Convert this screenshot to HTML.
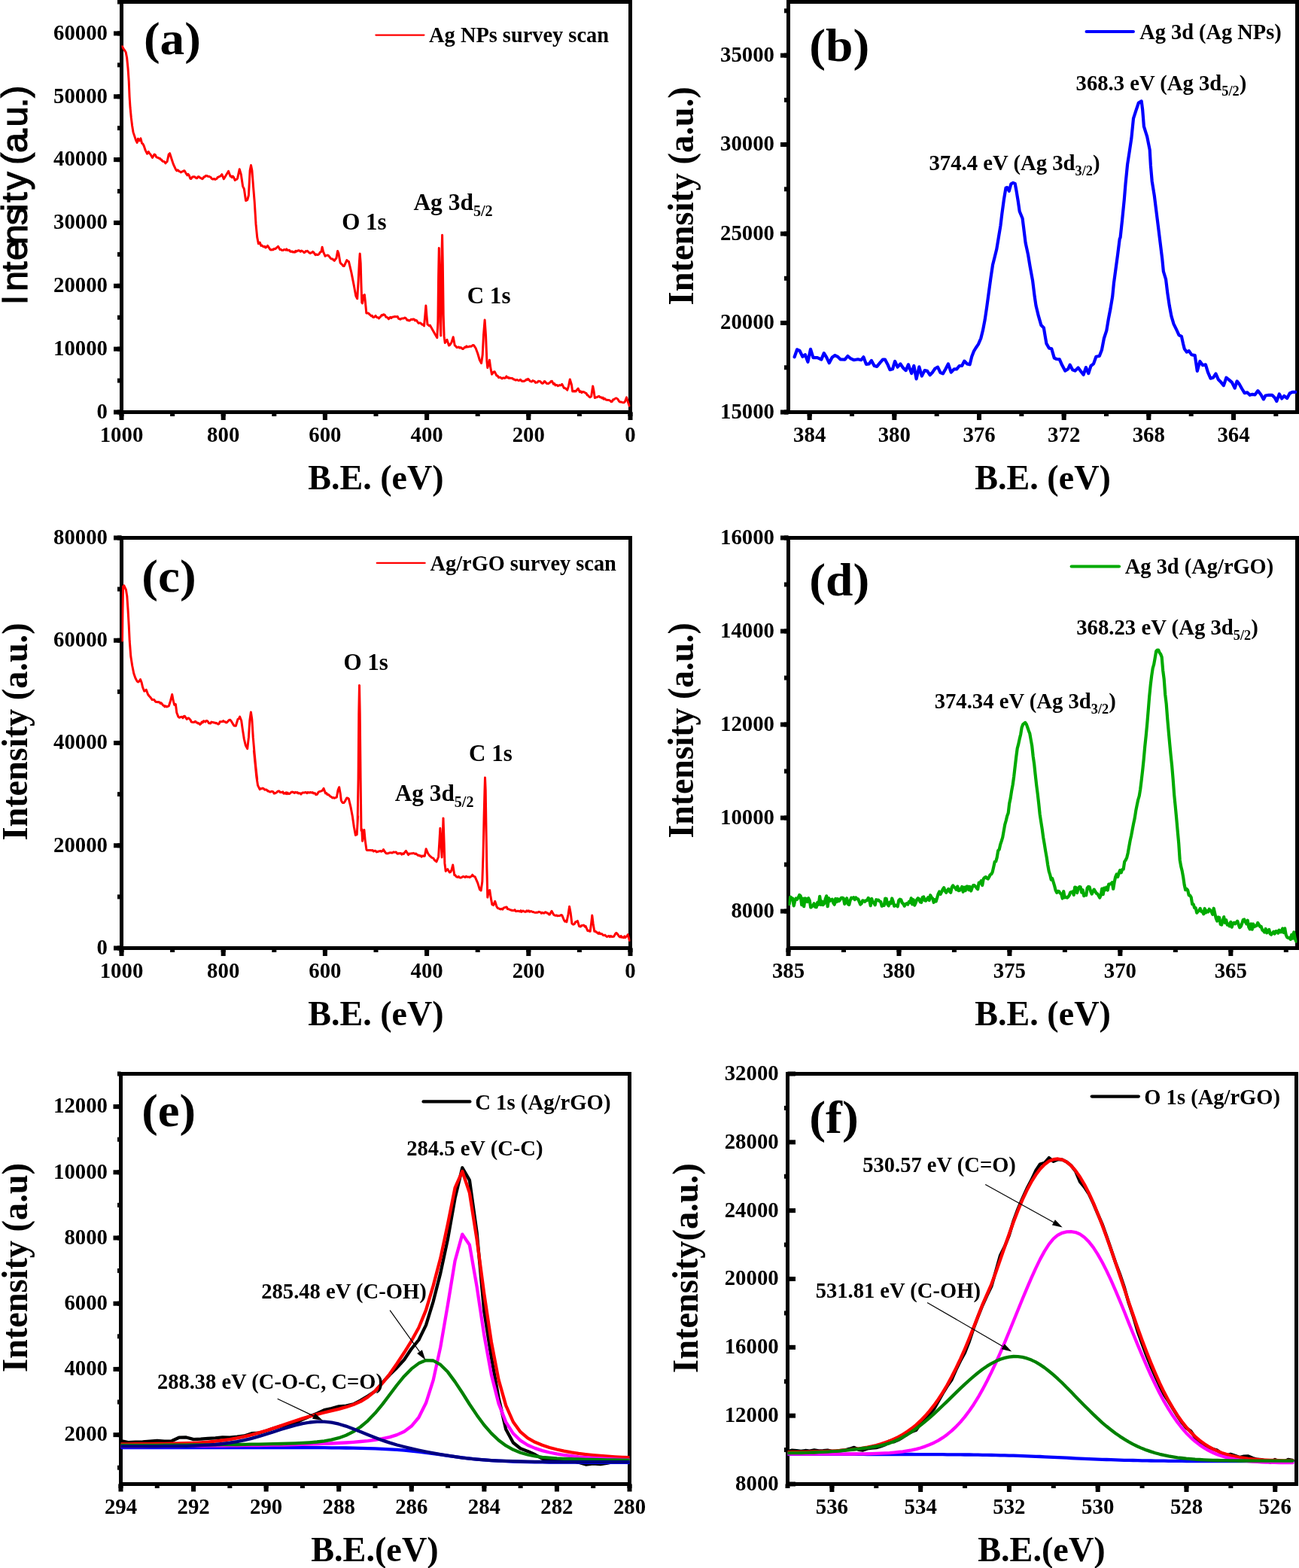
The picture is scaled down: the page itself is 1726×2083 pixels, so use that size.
<!DOCTYPE html>
<html lang="en"><head><meta charset="utf-8"><title>XPS spectra of Ag NPs and Ag/rGO</title>
<style>html,body{margin:0;padding:0;background:#fff}body{width:1726px;height:2083px;overflow:hidden}svg text{fill:#000}</style>
</head><body>
<svg xmlns="http://www.w3.org/2000/svg" width="1726" height="2083" viewBox="0 0 1726 2083" style="display:block">
<rect width="1726" height="2083" fill="#fff"/>
<clipPath id="ca"><rect x="161.5" y="2.5" width="676.0" height="545.0"/></clipPath>
<clipPath id="cb"><rect x="1047.5" y="2.5" width="676.0" height="545.0"/></clipPath>
<clipPath id="cc"><rect x="161.5" y="714.5" width="676.0" height="545.0"/></clipPath>
<clipPath id="cd"><rect x="1047.5" y="714.5" width="676.0" height="545.0"/></clipPath>
<clipPath id="ce"><rect x="160.5" y="1426.5" width="676.0" height="545.0"/></clipPath>
<clipPath id="cf"><rect x="1046.5" y="1426.5" width="676.0" height="545.0"/></clipPath>
<rect x="161.50" y="2.50" width="676.00" height="545.00" fill="none" stroke="#000" stroke-width="5.00"/>
<rect x="151.00" y="544.50" width="10.50" height="6.00" fill="#000"/>
<rect x="151.00" y="460.65" width="10.50" height="6.00" fill="#000"/>
<rect x="151.00" y="376.81" width="10.50" height="6.00" fill="#000"/>
<rect x="151.00" y="292.96" width="10.50" height="6.00" fill="#000"/>
<rect x="151.00" y="209.12" width="10.50" height="6.00" fill="#000"/>
<rect x="151.00" y="125.27" width="10.50" height="6.00" fill="#000"/>
<rect x="151.00" y="41.42" width="10.50" height="6.00" fill="#000"/>
<rect x="156.00" y="544.50" width="5.50" height="6.00" fill="#000"/>
<rect x="156.00" y="502.58" width="5.50" height="6.00" fill="#000"/>
<rect x="156.00" y="460.65" width="5.50" height="6.00" fill="#000"/>
<rect x="156.00" y="418.73" width="5.50" height="6.00" fill="#000"/>
<rect x="156.00" y="376.81" width="5.50" height="6.00" fill="#000"/>
<rect x="156.00" y="334.88" width="5.50" height="6.00" fill="#000"/>
<rect x="156.00" y="292.96" width="5.50" height="6.00" fill="#000"/>
<rect x="156.00" y="251.04" width="5.50" height="6.00" fill="#000"/>
<rect x="156.00" y="209.12" width="5.50" height="6.00" fill="#000"/>
<rect x="156.00" y="167.19" width="5.50" height="6.00" fill="#000"/>
<rect x="156.00" y="125.27" width="5.50" height="6.00" fill="#000"/>
<rect x="156.00" y="83.35" width="5.50" height="6.00" fill="#000"/>
<rect x="156.00" y="41.42" width="5.50" height="6.00" fill="#000"/>
<rect x="156.00" y="-0.50" width="5.50" height="6.00" fill="#000"/>
<rect x="834.50" y="547.50" width="6.00" height="10.50" fill="#000"/>
<rect x="699.30" y="547.50" width="6.00" height="10.50" fill="#000"/>
<rect x="564.10" y="547.50" width="6.00" height="10.50" fill="#000"/>
<rect x="428.90" y="547.50" width="6.00" height="10.50" fill="#000"/>
<rect x="293.70" y="547.50" width="6.00" height="10.50" fill="#000"/>
<rect x="158.50" y="547.50" width="6.00" height="10.50" fill="#000"/>
<rect x="834.50" y="547.50" width="6.00" height="5.50" fill="#000"/>
<rect x="766.90" y="547.50" width="6.00" height="5.50" fill="#000"/>
<rect x="699.30" y="547.50" width="6.00" height="5.50" fill="#000"/>
<rect x="631.70" y="547.50" width="6.00" height="5.50" fill="#000"/>
<rect x="564.10" y="547.50" width="6.00" height="5.50" fill="#000"/>
<rect x="496.50" y="547.50" width="6.00" height="5.50" fill="#000"/>
<rect x="428.90" y="547.50" width="6.00" height="5.50" fill="#000"/>
<rect x="361.30" y="547.50" width="6.00" height="5.50" fill="#000"/>
<rect x="293.70" y="547.50" width="6.00" height="5.50" fill="#000"/>
<rect x="226.10" y="547.50" width="6.00" height="5.50" fill="#000"/>
<rect x="158.50" y="547.50" width="6.00" height="5.50" fill="#000"/>
<rect x="1047.50" y="2.50" width="676.00" height="545.00" fill="none" stroke="#000" stroke-width="5.00"/>
<rect x="1037.00" y="544.50" width="10.50" height="6.00" fill="#000"/>
<rect x="1037.00" y="426.02" width="10.50" height="6.00" fill="#000"/>
<rect x="1037.00" y="307.54" width="10.50" height="6.00" fill="#000"/>
<rect x="1037.00" y="189.07" width="10.50" height="6.00" fill="#000"/>
<rect x="1037.00" y="70.59" width="10.50" height="6.00" fill="#000"/>
<rect x="1042.00" y="544.50" width="5.50" height="6.00" fill="#000"/>
<rect x="1042.00" y="485.26" width="5.50" height="6.00" fill="#000"/>
<rect x="1042.00" y="426.02" width="5.50" height="6.00" fill="#000"/>
<rect x="1042.00" y="366.78" width="5.50" height="6.00" fill="#000"/>
<rect x="1042.00" y="307.54" width="5.50" height="6.00" fill="#000"/>
<rect x="1042.00" y="248.30" width="5.50" height="6.00" fill="#000"/>
<rect x="1042.00" y="189.07" width="5.50" height="6.00" fill="#000"/>
<rect x="1042.00" y="129.83" width="5.50" height="6.00" fill="#000"/>
<rect x="1042.00" y="70.59" width="5.50" height="6.00" fill="#000"/>
<rect x="1042.00" y="11.35" width="5.50" height="6.00" fill="#000"/>
<rect x="1636.00" y="547.50" width="6.00" height="10.50" fill="#000"/>
<rect x="1523.33" y="547.50" width="6.00" height="10.50" fill="#000"/>
<rect x="1410.67" y="547.50" width="6.00" height="10.50" fill="#000"/>
<rect x="1298.00" y="547.50" width="6.00" height="10.50" fill="#000"/>
<rect x="1185.33" y="547.50" width="6.00" height="10.50" fill="#000"/>
<rect x="1072.67" y="547.50" width="6.00" height="10.50" fill="#000"/>
<rect x="1692.33" y="547.50" width="6.00" height="5.50" fill="#000"/>
<rect x="1636.00" y="547.50" width="6.00" height="5.50" fill="#000"/>
<rect x="1579.67" y="547.50" width="6.00" height="5.50" fill="#000"/>
<rect x="1523.33" y="547.50" width="6.00" height="5.50" fill="#000"/>
<rect x="1467.00" y="547.50" width="6.00" height="5.50" fill="#000"/>
<rect x="1410.67" y="547.50" width="6.00" height="5.50" fill="#000"/>
<rect x="1354.33" y="547.50" width="6.00" height="5.50" fill="#000"/>
<rect x="1298.00" y="547.50" width="6.00" height="5.50" fill="#000"/>
<rect x="1241.67" y="547.50" width="6.00" height="5.50" fill="#000"/>
<rect x="1185.33" y="547.50" width="6.00" height="5.50" fill="#000"/>
<rect x="1129.00" y="547.50" width="6.00" height="5.50" fill="#000"/>
<rect x="1072.67" y="547.50" width="6.00" height="5.50" fill="#000"/>
<rect x="161.50" y="714.50" width="676.00" height="545.00" fill="none" stroke="#000" stroke-width="5.00"/>
<rect x="151.00" y="1256.50" width="10.50" height="6.00" fill="#000"/>
<rect x="151.00" y="1120.25" width="10.50" height="6.00" fill="#000"/>
<rect x="151.00" y="984.00" width="10.50" height="6.00" fill="#000"/>
<rect x="151.00" y="847.75" width="10.50" height="6.00" fill="#000"/>
<rect x="151.00" y="711.50" width="10.50" height="6.00" fill="#000"/>
<rect x="156.00" y="1256.50" width="5.50" height="6.00" fill="#000"/>
<rect x="156.00" y="1188.38" width="5.50" height="6.00" fill="#000"/>
<rect x="156.00" y="1120.25" width="5.50" height="6.00" fill="#000"/>
<rect x="156.00" y="1052.12" width="5.50" height="6.00" fill="#000"/>
<rect x="156.00" y="984.00" width="5.50" height="6.00" fill="#000"/>
<rect x="156.00" y="915.88" width="5.50" height="6.00" fill="#000"/>
<rect x="156.00" y="847.75" width="5.50" height="6.00" fill="#000"/>
<rect x="156.00" y="779.62" width="5.50" height="6.00" fill="#000"/>
<rect x="156.00" y="711.50" width="5.50" height="6.00" fill="#000"/>
<rect x="834.50" y="1259.50" width="6.00" height="10.50" fill="#000"/>
<rect x="699.30" y="1259.50" width="6.00" height="10.50" fill="#000"/>
<rect x="564.10" y="1259.50" width="6.00" height="10.50" fill="#000"/>
<rect x="428.90" y="1259.50" width="6.00" height="10.50" fill="#000"/>
<rect x="293.70" y="1259.50" width="6.00" height="10.50" fill="#000"/>
<rect x="158.50" y="1259.50" width="6.00" height="10.50" fill="#000"/>
<rect x="834.50" y="1259.50" width="6.00" height="5.50" fill="#000"/>
<rect x="766.90" y="1259.50" width="6.00" height="5.50" fill="#000"/>
<rect x="699.30" y="1259.50" width="6.00" height="5.50" fill="#000"/>
<rect x="631.70" y="1259.50" width="6.00" height="5.50" fill="#000"/>
<rect x="564.10" y="1259.50" width="6.00" height="5.50" fill="#000"/>
<rect x="496.50" y="1259.50" width="6.00" height="5.50" fill="#000"/>
<rect x="428.90" y="1259.50" width="6.00" height="5.50" fill="#000"/>
<rect x="361.30" y="1259.50" width="6.00" height="5.50" fill="#000"/>
<rect x="293.70" y="1259.50" width="6.00" height="5.50" fill="#000"/>
<rect x="226.10" y="1259.50" width="6.00" height="5.50" fill="#000"/>
<rect x="158.50" y="1259.50" width="6.00" height="5.50" fill="#000"/>
<rect x="1047.50" y="714.50" width="676.00" height="545.00" fill="none" stroke="#000" stroke-width="5.00"/>
<rect x="1037.00" y="1207.52" width="10.50" height="6.00" fill="#000"/>
<rect x="1037.00" y="1083.51" width="10.50" height="6.00" fill="#000"/>
<rect x="1037.00" y="959.51" width="10.50" height="6.00" fill="#000"/>
<rect x="1037.00" y="835.50" width="10.50" height="6.00" fill="#000"/>
<rect x="1037.00" y="711.50" width="10.50" height="6.00" fill="#000"/>
<rect x="1042.00" y="1207.52" width="5.50" height="6.00" fill="#000"/>
<rect x="1042.00" y="1145.52" width="5.50" height="6.00" fill="#000"/>
<rect x="1042.00" y="1083.51" width="5.50" height="6.00" fill="#000"/>
<rect x="1042.00" y="1021.51" width="5.50" height="6.00" fill="#000"/>
<rect x="1042.00" y="959.51" width="5.50" height="6.00" fill="#000"/>
<rect x="1042.00" y="897.51" width="5.50" height="6.00" fill="#000"/>
<rect x="1042.00" y="835.50" width="5.50" height="6.00" fill="#000"/>
<rect x="1042.00" y="773.50" width="5.50" height="6.00" fill="#000"/>
<rect x="1042.00" y="711.50" width="5.50" height="6.00" fill="#000"/>
<rect x="1632.33" y="1259.50" width="6.00" height="10.50" fill="#000"/>
<rect x="1485.37" y="1259.50" width="6.00" height="10.50" fill="#000"/>
<rect x="1338.41" y="1259.50" width="6.00" height="10.50" fill="#000"/>
<rect x="1191.46" y="1259.50" width="6.00" height="10.50" fill="#000"/>
<rect x="1044.50" y="1259.50" width="6.00" height="10.50" fill="#000"/>
<rect x="1705.80" y="1259.50" width="6.00" height="5.50" fill="#000"/>
<rect x="1632.33" y="1259.50" width="6.00" height="5.50" fill="#000"/>
<rect x="1558.85" y="1259.50" width="6.00" height="5.50" fill="#000"/>
<rect x="1485.37" y="1259.50" width="6.00" height="5.50" fill="#000"/>
<rect x="1411.89" y="1259.50" width="6.00" height="5.50" fill="#000"/>
<rect x="1338.41" y="1259.50" width="6.00" height="5.50" fill="#000"/>
<rect x="1264.93" y="1259.50" width="6.00" height="5.50" fill="#000"/>
<rect x="1191.46" y="1259.50" width="6.00" height="5.50" fill="#000"/>
<rect x="1117.98" y="1259.50" width="6.00" height="5.50" fill="#000"/>
<rect x="1044.50" y="1259.50" width="6.00" height="5.50" fill="#000"/>
<rect x="160.50" y="1426.50" width="676.00" height="545.00" fill="none" stroke="#000" stroke-width="5.00"/>
<rect x="150.50" y="1903.10" width="10.00" height="6.00" fill="#000"/>
<rect x="150.50" y="1815.90" width="10.00" height="6.00" fill="#000"/>
<rect x="150.50" y="1728.70" width="10.00" height="6.00" fill="#000"/>
<rect x="150.50" y="1641.50" width="10.00" height="6.00" fill="#000"/>
<rect x="150.50" y="1554.30" width="10.00" height="6.00" fill="#000"/>
<rect x="150.50" y="1467.10" width="10.00" height="6.00" fill="#000"/>
<rect x="156.00" y="1946.70" width="4.50" height="6.00" fill="#000"/>
<rect x="156.00" y="1903.10" width="4.50" height="6.00" fill="#000"/>
<rect x="156.00" y="1859.50" width="4.50" height="6.00" fill="#000"/>
<rect x="156.00" y="1815.90" width="4.50" height="6.00" fill="#000"/>
<rect x="156.00" y="1772.30" width="4.50" height="6.00" fill="#000"/>
<rect x="156.00" y="1728.70" width="4.50" height="6.00" fill="#000"/>
<rect x="156.00" y="1685.10" width="4.50" height="6.00" fill="#000"/>
<rect x="156.00" y="1641.50" width="4.50" height="6.00" fill="#000"/>
<rect x="156.00" y="1597.90" width="4.50" height="6.00" fill="#000"/>
<rect x="156.00" y="1554.30" width="4.50" height="6.00" fill="#000"/>
<rect x="156.00" y="1510.70" width="4.50" height="6.00" fill="#000"/>
<rect x="156.00" y="1467.10" width="4.50" height="6.00" fill="#000"/>
<rect x="156.00" y="1423.50" width="4.50" height="6.00" fill="#000"/>
<rect x="833.50" y="1971.50" width="6.00" height="10.00" fill="#000"/>
<rect x="736.93" y="1971.50" width="6.00" height="10.00" fill="#000"/>
<rect x="640.36" y="1971.50" width="6.00" height="10.00" fill="#000"/>
<rect x="543.79" y="1971.50" width="6.00" height="10.00" fill="#000"/>
<rect x="447.21" y="1971.50" width="6.00" height="10.00" fill="#000"/>
<rect x="350.64" y="1971.50" width="6.00" height="10.00" fill="#000"/>
<rect x="254.07" y="1971.50" width="6.00" height="10.00" fill="#000"/>
<rect x="157.50" y="1971.50" width="6.00" height="10.00" fill="#000"/>
<rect x="833.50" y="1971.50" width="6.00" height="5.50" fill="#000"/>
<rect x="785.21" y="1971.50" width="6.00" height="5.50" fill="#000"/>
<rect x="736.93" y="1971.50" width="6.00" height="5.50" fill="#000"/>
<rect x="688.64" y="1971.50" width="6.00" height="5.50" fill="#000"/>
<rect x="640.36" y="1971.50" width="6.00" height="5.50" fill="#000"/>
<rect x="592.07" y="1971.50" width="6.00" height="5.50" fill="#000"/>
<rect x="543.79" y="1971.50" width="6.00" height="5.50" fill="#000"/>
<rect x="495.50" y="1971.50" width="6.00" height="5.50" fill="#000"/>
<rect x="447.21" y="1971.50" width="6.00" height="5.50" fill="#000"/>
<rect x="398.93" y="1971.50" width="6.00" height="5.50" fill="#000"/>
<rect x="350.64" y="1971.50" width="6.00" height="5.50" fill="#000"/>
<rect x="302.36" y="1971.50" width="6.00" height="5.50" fill="#000"/>
<rect x="254.07" y="1971.50" width="6.00" height="5.50" fill="#000"/>
<rect x="205.79" y="1971.50" width="6.00" height="5.50" fill="#000"/>
<rect x="157.50" y="1971.50" width="6.00" height="5.50" fill="#000"/>
<rect x="1046.50" y="1426.50" width="676.00" height="545.00" fill="none" stroke="#000" stroke-width="5.00"/>
<rect x="1046.50" y="1968.50" width="10.50" height="6.00" fill="#000"/>
<rect x="1046.50" y="1877.67" width="10.50" height="6.00" fill="#000"/>
<rect x="1046.50" y="1786.83" width="10.50" height="6.00" fill="#000"/>
<rect x="1046.50" y="1696.00" width="10.50" height="6.00" fill="#000"/>
<rect x="1046.50" y="1605.17" width="10.50" height="6.00" fill="#000"/>
<rect x="1046.50" y="1514.33" width="10.50" height="6.00" fill="#000"/>
<rect x="1046.50" y="1423.50" width="10.50" height="6.00" fill="#000"/>
<rect x="1041.90" y="1923.08" width="4.60" height="6.00" fill="#000"/>
<rect x="1041.90" y="1832.25" width="4.60" height="6.00" fill="#000"/>
<rect x="1041.90" y="1741.42" width="4.60" height="6.00" fill="#000"/>
<rect x="1041.90" y="1650.58" width="4.60" height="6.00" fill="#000"/>
<rect x="1041.90" y="1559.75" width="4.60" height="6.00" fill="#000"/>
<rect x="1041.90" y="1468.92" width="4.60" height="6.00" fill="#000"/>
<rect x="1691.24" y="1971.50" width="6.00" height="10.50" fill="#000"/>
<rect x="1573.47" y="1971.50" width="6.00" height="10.50" fill="#000"/>
<rect x="1455.70" y="1971.50" width="6.00" height="10.50" fill="#000"/>
<rect x="1337.93" y="1971.50" width="6.00" height="10.50" fill="#000"/>
<rect x="1220.16" y="1971.50" width="6.00" height="10.50" fill="#000"/>
<rect x="1102.39" y="1971.50" width="6.00" height="10.50" fill="#000"/>
<rect x="1691.24" y="1971.50" width="6.00" height="5.50" fill="#000"/>
<rect x="1632.35" y="1971.50" width="6.00" height="5.50" fill="#000"/>
<rect x="1573.47" y="1971.50" width="6.00" height="5.50" fill="#000"/>
<rect x="1514.58" y="1971.50" width="6.00" height="5.50" fill="#000"/>
<rect x="1455.70" y="1971.50" width="6.00" height="5.50" fill="#000"/>
<rect x="1396.81" y="1971.50" width="6.00" height="5.50" fill="#000"/>
<rect x="1337.93" y="1971.50" width="6.00" height="5.50" fill="#000"/>
<rect x="1279.04" y="1971.50" width="6.00" height="5.50" fill="#000"/>
<rect x="1220.16" y="1971.50" width="6.00" height="5.50" fill="#000"/>
<rect x="1161.27" y="1971.50" width="6.00" height="5.50" fill="#000"/>
<rect x="1102.39" y="1971.50" width="6.00" height="5.50" fill="#000"/>
<rect x="1043.50" y="1971.50" width="6.00" height="5.50" fill="#000"/>
<polyline points="162.5,61.7 164.3,65.2 165.7,67.0 167.2,69.5 168.6,76.5 170.0,90.4 171.2,107.8 172.1,128.6 173.0,142.5 174.3,156.4 175.6,166.9 177.0,175.6 179.0,181.6 180.8,186.9 182.2,189.5 183.4,184.3 185.1,186.9 186.9,183.9 188.6,190.3 189.9,191.3 191.2,193.8 193.3,199.9 195.6,204.2 197.3,201.6 198.6,203.7 199.9,205.1 202.5,209.5 205.1,205.1 206.4,205.9 207.7,208.6 208.9,209.2 210.0,209.5 211.2,210.3 212.3,210.2 213.4,212.1 214.5,211.9 215.5,213.8 216.6,214.4 217.7,214.4 218.8,215.2 219.9,216.9 221.0,215.6 222.1,214.7 224.2,205.1 225.6,203.7 227.7,210.3 230.3,218.1 233.8,225.6 234.9,226.9 236.0,225.8 237.1,226.6 238.1,227.7 239.3,228.1 240.5,228.9 241.6,228.1 242.8,227.8 243.9,227.0 245.1,226.8 247.7,231.2 248.9,232.8 250.0,231.3 251.2,232.9 252.9,237.3 254.0,237.5 255.1,235.7 256.2,234.8 257.3,235.0 258.4,234.7 259.6,235.7 260.7,236.7 261.9,236.7 263.1,234.7 264.2,234.7 265.3,235.6 266.4,236.5 267.5,236.7 268.6,237.8 269.7,237.0 270.9,235.0 272.0,235.0 273.2,233.6 274.3,233.5 275.5,233.8 276.7,234.6 277.8,234.4 279.0,235.0 280.1,235.6 281.3,237.3 282.5,238.1 283.6,237.9 284.7,237.5 285.8,238.5 287.0,237.8 288.1,237.3 289.2,235.5 290.3,235.3 291.4,234.4 292.5,234.3 293.7,233.1 294.8,231.7 297.4,237.8 303.5,227.4 306.1,234.3 307.2,234.1 308.2,235.8 309.3,234.1 310.4,235.2 312.2,239.5 313.3,238.5 314.5,238.3 315.6,236.9 318.2,224.7 320.3,231.7 322.6,247.3 324.3,250.8 326.6,266.5 328.7,265.6 330.4,259.5 332.1,226.5 333.5,219.5 334.9,226.5 336.5,247.3 338.2,268.2 340.0,297.7 341.7,315.1 343.4,323.8 345.2,322.1 346.9,326.4 348.2,326.1 349.5,327.3 350.7,327.9 351.8,327.4 353.0,329.0 354.3,328.1 355.6,326.4 359.1,331.6 360.3,332.1 361.5,331.5 362.7,331.9 364.0,330.5 365.2,330.8 366.3,330.3 367.3,329.2 368.4,328.3 369.5,327.3 372.1,331.6 373.4,331.5 374.7,332.4 376.0,332.6 377.3,331.6 378.5,331.7 379.7,332.2 380.8,330.9 382.0,332.4 383.1,332.4 384.3,332.2 385.6,334.0 386.9,334.4 388.2,333.9 389.5,335.1 390.6,334.7 391.7,335.1 392.8,333.4 393.9,334.2 394.9,333.3 396.0,333.0 397.1,332.6 398.2,333.4 399.4,334.3 400.5,333.1 401.7,333.7 402.8,334.3 404.0,335.6 405.2,335.1 406.3,333.6 407.5,333.9 408.6,333.4 409.9,334.8 411.2,336.0 412.3,336.4 413.4,335.8 414.5,335.5 415.6,334.3 416.7,335.2 417.9,337.0 419.1,338.6 420.4,337.9 421.7,338.6 423.0,338.3 424.3,336.9 425.6,334.8 426.9,334.3 428.1,328.2 429.5,334.3 432.1,340.3 433.2,339.4 434.3,339.3 435.4,339.1 436.4,339.5 437.6,340.9 438.8,342.6 439.9,343.8 441.0,343.9 442.1,344.0 443.2,345.6 444.3,346.4 445.6,344.4 446.9,342.9 448.6,333.4 450.0,336.9 452.1,349.0 453.4,350.5 454.7,351.6 456.0,353.5 457.3,353.4 460.8,345.6 462.1,346.8 463.4,347.3 466.9,362.1 470.3,379.4 472.9,393.4 474.7,396.8 476.1,374.2 477.3,349.9 478.2,336.9 479.2,349.9 479.9,376.0 480.8,402.0 481.6,402.9 483.0,392.5 484.4,391.6 485.5,402.0 486.8,415.9 488.2,416.0 489.5,415.9 490.8,417.5 492.1,418.6 493.2,419.8 494.4,419.3 495.5,421.2 496.7,421.5 497.9,420.6 499.0,419.4 500.1,421.1 501.2,421.8 502.3,421.8 503.4,422.9 504.7,421.4 506.0,420.3 507.1,418.6 508.3,418.9 509.4,417.7 510.6,417.9 511.8,419.1 512.9,421.2 514.1,421.4 515.2,422.2 516.4,423.8 517.7,422.1 519.0,421.2 520.0,422.5 521.2,421.3 522.3,420.9 523.5,420.9 524.6,420.5 525.8,420.8 527.0,420.8 528.3,420.6 529.6,423.4 530.9,423.7 532.2,424.3 533.3,423.2 534.5,423.1 535.6,423.1 536.8,422.8 538.0,422.0 539.1,422.5 540.2,424.2 541.3,425.4 542.4,425.1 543.5,426.0 544.6,425.7 545.8,424.5 546.9,424.3 548.1,424.5 549.3,424.0 550.4,424.3 551.5,425.9 552.6,425.3 553.7,425.8 554.8,427.7 556.1,429.4 557.4,429.1 558.7,428.9 560.0,430.4 561.1,431.3 562.3,431.1 563.5,433.0 564.8,419.1 565.9,406.0 566.9,419.1 568.0,431.2 569.1,431.6 570.2,432.9 571.3,432.1 574.8,438.2 578.2,444.3 580.8,448.6 581.9,427.7 582.6,366.9 583.3,329.5 584.3,366.9 585.2,436.4 585.7,446.0 586.4,401.7 587.1,332.1 587.6,312.2 588.3,349.5 589.2,419.1 590.1,446.9 591.3,455.6 593.9,451.2 596.5,459.0 597.6,458.4 598.8,456.6 600.0,454.7 602.2,447.7 604.3,459.0 605.6,459.8 606.9,461.6 608.2,461.4 609.5,460.9 610.8,462.2 612.1,461.6 613.3,462.3 614.4,463.4 615.6,463.4 616.7,462.1 617.8,461.0 618.9,461.5 619.9,459.9 621.0,461.0 622.1,460.7 623.2,460.6 624.3,459.9 625.6,460.3 626.9,459.8 628.2,458.4 629.5,458.7 630.8,460.6 632.1,462.5 634.7,469.5 637.3,478.2 639.6,482.5 641.2,471.2 642.5,445.1 644.1,425.1 645.5,445.1 646.9,479.9 647.8,488.6 650.4,478.2 651.8,488.6 653.5,497.3 654.8,495.8 656.0,493.9 657.3,493.8 659.9,499.0 661.2,499.3 662.5,501.6 663.7,501.2 664.9,501.3 666.0,502.3 667.2,503.0 668.3,501.9 669.5,502.1 670.6,502.4 671.8,501.7 673.0,499.9 674.1,501.8 675.3,501.3 676.4,502.5 677.6,502.1 678.8,502.4 679.9,502.5 681.1,502.8 682.2,503.9 683.4,503.9 684.6,505.0 685.7,505.0 686.9,504.4 688.0,505.0 689.2,505.6 690.3,505.1 691.5,504.3 692.7,505.7 693.8,506.4 695.0,506.3 696.1,506.4 697.3,506.0 698.4,505.3 699.5,504.0 700.6,504.6 701.6,503.4 702.9,504.5 704.3,506.3 705.4,506.7 706.6,506.9 707.7,505.6 709.0,506.0 710.3,506.6 711.6,508.4 712.9,508.1 714.1,508.0 715.3,506.3 716.4,506.5 717.6,506.5 718.7,507.5 719.9,509.1 721.0,509.4 722.1,508.6 723.2,506.6 724.2,506.8 725.3,508.3 726.4,509.4 727.5,509.4 728.6,509.8 729.8,508.6 731.0,508.2 732.2,506.4 733.5,506.3 735.5,510.3 736.7,509.5 737.9,511.9 739.0,511.5 740.2,511.5 741.3,512.7 742.5,512.1 743.6,511.5 744.7,512.0 745.8,511.5 746.8,510.3 749.4,515.5 750.5,515.5 751.6,516.3 752.7,517.0 753.8,518.1 755.5,512.9 757.3,503.9 759.5,511.2 760.7,519.9 761.8,519.3 762.9,520.1 764.0,519.3 765.1,519.9 766.7,517.8 768.2,516.1 770.3,520.7 771.6,519.9 772.9,521.6 774.2,520.4 775.5,520.7 776.7,521.2 777.8,522.1 779.0,522.5 780.2,524.8 781.3,525.2 782.5,526.8 784.0,527.7 785.6,526.8 787.7,512.9 789.1,519.9 790.3,528.6 791.4,528.1 792.5,527.8 793.6,527.3 794.6,526.8 795.9,526.3 797.2,527.7 798.6,527.7 799.9,528.9 801.0,528.2 802.2,530.3 803.3,529.3 804.5,530.4 805.6,531.3 806.8,531.2 808.0,531.6 809.2,531.5 810.5,532.3 811.7,532.7 812.9,532.9 812.1,533.8 813.4,533.4 814.7,530.8 816.0,530.7 817.3,529.5 818.6,528.9 819.9,529.5 821.2,530.7 822.5,533.0 823.8,534.0 825.1,533.9 826.4,534.4 827.7,534.7 829.0,534.8 830.3,533.8 832.6,527.8 834.3,533.8 836.1,539.1" fill="none" stroke="#ff0000" stroke-width="3.00" stroke-linejoin="round" stroke-linecap="round" clip-path="url(#ca)"/>
<polyline points="1055.6,474.3 1059.1,464.3 1062.6,466.0 1066.4,473.8 1069.9,471.2 1073.4,480.8 1077.0,463.9 1080.5,475.2 1086.1,475.2 1091.3,477.6 1094.8,469.1 1098.2,474.7 1101.7,482.2 1105.7,474.7 1109.5,472.1 1113.0,473.8 1116.5,477.3 1122.6,477.6 1126.4,473.0 1130.4,476.4 1134.7,478.2 1139.9,477.3 1144.3,478.2 1147.4,474.3 1150.9,483.9 1154.7,483.4 1157.9,479.0 1161.7,486.0 1165.2,486.9 1169.5,481.6 1173.0,477.6 1175.9,477.6 1179.9,485.1 1182.5,491.2 1186.0,490.3 1189.1,479.9 1192.6,487.7 1196.4,483.4 1199.9,488.6 1203.7,492.1 1206.9,484.3 1211.2,496.1 1214.3,486.0 1217.6,503.4 1221.3,487.4 1224.8,499.5 1228.6,492.1 1232.1,492.9 1235.6,498.2 1239.0,494.7 1242.5,489.5 1246.0,487.7 1249.5,495.0 1252.9,496.4 1256.4,490.3 1259.9,483.4 1263.7,494.7 1267.7,490.3 1271.2,490.3 1274.7,486.0 1278.1,486.0 1281.3,479.6 1285.1,483.4 1288.6,484.3 1291.2,473.8 1293.8,466.9 1296.4,462.5 1299.9,457.3 1303.3,449.5 1305.9,439.1 1308.6,425.2 1311.2,407.8 1313.8,388.6 1316.4,369.5 1319.0,352.1 1321.6,341.7 1324.2,331.3 1326.8,315.6 1329.4,300.0 1331.3,284.3 1333.9,265.1 1336.5,249.5 1338.2,249.1 1340.8,253.8 1343.4,244.3 1346.1,242.9 1348.7,243.9 1350.4,253.0 1352.7,266.9 1354.7,280.8 1358.6,290.3 1360.0,301.6 1362.6,322.5 1366.0,338.1 1368.6,353.8 1372.1,372.9 1374.7,393.9 1376.5,406.0 1379.9,419.9 1383.4,432.1 1386.9,435.6 1388.6,446.0 1390.4,456.4 1393.9,462.5 1397.3,463.4 1400.8,475.6 1403.8,477.0 1407.8,477.3 1411.2,485.1 1415.2,492.6 1419.1,490.3 1421.7,484.6 1425.1,491.2 1428.6,492.6 1432.6,488.6 1436.1,493.3 1439.6,497.8 1442.9,488.1 1446.3,496.1 1449.5,486.0 1453.0,483.4 1456.4,473.8 1460.8,473.0 1463.9,465.1 1466.9,449.5 1470.3,439.1 1472.9,423.4 1475.6,409.5 1478.2,393.9 1479.9,376.5 1482.5,357.4 1485.1,338.2 1487.7,317.4 1488.6,315.5 1491.2,291.2 1493.8,265.1 1495.5,244.3 1498.1,218.2 1500.8,200.8 1503.4,183.4 1506.0,157.4 1509.4,146.9 1512.9,136.5 1516.7,134.4 1518.1,145.2 1519.9,167.8 1524.2,181.7 1527.7,199.1 1528.9,219.9 1530.7,240.8 1533.8,259.9 1536.4,280.8 1539.0,301.6 1541.6,322.5 1544.2,343.4 1545.9,360.7 1549.1,371.2 1551.2,388.5 1551.2,388.6 1553.8,406.0 1556.4,419.9 1559.5,430.4 1563.3,438.2 1566.5,445.1 1569.9,446.9 1572.0,456.4 1573.8,463.4 1576.9,467.7 1579.8,466.1 1583.3,471.3 1587.7,472.1 1590.8,493.0 1594.3,480.0 1598.1,485.2 1601.9,484.3 1605.0,494.7 1608.5,502.6 1612.0,501.7 1615.5,496.5 1618.9,504.3 1622.4,507.8 1625.9,512.1 1629.4,501.7 1632.8,504.3 1636.8,507.8 1640.7,515.6 1643.6,506.4 1646.8,510.4 1650.2,516.5 1653.7,522.2 1657.2,521.3 1660.7,524.8 1664.1,523.8 1667.6,524.3 1671.4,519.1 1675.4,524.3 1678.9,530.4 1681.5,525.5 1685.9,524.8 1690.2,524.8 1693.7,528.3 1696.3,533.0 1699.8,523.4 1703.2,529.5 1706.2,526.0 1710.2,529.0 1713.7,522.5 1717.2,520.8 1721.5,520.8" fill="none" stroke="#0000ff" stroke-width="4.20" stroke-linejoin="round" stroke-linecap="round" clip-path="url(#cb)"/>
<polyline points="162.5,851.2 163.0,809.5 163.6,779.1 164.8,777.9 167.4,783.5 168.8,792.1 170.0,809.5 171.2,830.4 172.2,851.2 173.8,872.1 175.7,884.3 177.8,894.7 179.9,900.8 182.2,905.1 183.5,906.0 184.8,905.1 186.5,902.5 188.2,906.9 189.6,913.0 191.7,918.2 193.0,917.2 194.3,916.4 196.6,922.5 198.1,924.5 199.5,926.0 200.8,927.7 202.1,929.5 203.5,929.5 204.8,929.5 206.1,931.5 207.4,932.6 208.5,932.5 209.7,932.7 210.8,932.6 212.0,933.0 213.2,934.4 214.3,933.8 215.5,935.4 216.6,937.0 217.8,937.3 218.9,938.8 220.1,937.9 221.3,939.0 222.8,938.5 224.4,937.8 226.5,931.2 228.7,922.5 230.3,931.2 231.7,936.4 233.4,935.6 234.8,946.8 236.9,952.1 238.1,953.2 239.2,953.0 240.4,952.4 241.7,952.3 243.0,953.8 244.1,951.7 245.3,951.2 246.7,953.2 248.2,955.5 249.5,953.9 250.8,954.1 252.0,955.2 253.1,956.5 254.3,959.0 255.4,959.3 256.5,959.5 257.6,959.6 258.6,958.7 259.8,958.3 261.0,960.0 262.1,959.9 263.3,961.1 264.4,960.8 265.6,962.5 266.9,961.6 268.2,959.0 269.4,959.8 270.5,957.8 271.7,958.1 272.8,959.0 274.0,957.6 275.2,957.6 276.3,958.6 277.5,960.8 278.6,960.8 279.8,961.0 280.9,959.1 282.1,959.4 283.2,959.6 284.3,960.1 285.4,960.1 286.5,960.8 287.6,960.5 288.8,961.3 289.9,962.1 291.1,961.5 292.2,958.8 293.4,958.7 294.5,958.8 295.6,958.5 296.7,957.6 297.7,958.7 298.9,958.7 300.1,959.8 301.2,959.9 302.8,958.2 304.4,956.4 305.8,956.3 307.3,958.1 309.9,962.5 311.1,964.1 312.2,964.3 313.4,964.2 316.0,955.5 317.3,954.8 318.6,952.1 320.7,957.3 322.4,969.4 324.3,981.6 326.4,990.3 328.7,994.6 330.4,979.9 331.8,957.3 333.4,946.0 334.8,955.5 336.3,979.9 338.1,1000.7 339.8,1018.1 341.7,1035.5 337.4,997.4 339.1,1014.8 340.8,1032.1 342.6,1043.4 345.2,1048.7 346.5,1047.6 347.8,1047.7 349.1,1047.0 350.4,1047.8 351.7,1049.2 353.0,1048.9 354.3,1049.3 355.6,1050.9 356.9,1050.8 358.2,1052.0 359.5,1051.9 360.8,1051.3 361.9,1051.4 363.0,1051.8 364.1,1054.1 365.2,1053.9 366.3,1053.3 367.5,1052.8 368.7,1051.6 369.9,1050.9 371.1,1051.1 372.3,1052.7 373.5,1052.3 374.7,1052.7 375.8,1051.9 376.9,1054.1 378.0,1053.6 379.1,1054.2 380.2,1052.8 381.3,1054.7 382.3,1053.2 383.4,1054.4 384.7,1054.6 386.0,1053.2 387.3,1052.3 388.6,1052.1 390.0,1052.5 391.3,1053.5 392.6,1052.3 393.9,1053.0 395.1,1052.6 396.3,1053.9 397.5,1053.7 398.7,1053.8 399.9,1055.1 401.0,1053.8 402.1,1053.1 403.2,1052.9 404.3,1053.0 405.5,1052.6 406.6,1052.6 407.8,1053.6 408.9,1052.5 410.1,1053.0 411.2,1053.0 412.5,1052.5 413.9,1053.1 415.2,1052.6 416.5,1053.9 417.5,1053.8 418.6,1053.7 419.7,1055.7 420.8,1055.6 422.0,1054.4 423.1,1052.3 424.3,1051.6 425.6,1051.2 426.9,1050.9 428.5,1050.1 430.0,1047.4 432.5,1053.9 433.8,1053.6 435.1,1055.7 436.5,1055.6 437.8,1056.8 439.1,1058.2 440.4,1058.7 441.7,1060.0 443.0,1059.5 444.3,1060.3 445.8,1059.7 447.4,1059.1 449.1,1049.5 450.7,1045.7 452.3,1054.7 453.3,1063.4 454.4,1065.4 455.6,1066.6 457.0,1066.5 458.5,1064.3 460.8,1060.0 462.1,1060.3 463.4,1061.3 466.0,1072.1 468.3,1084.3 470.3,1098.2 472.4,1109.5 474.2,1108.6 475.6,1084.3 475.1,1092.9 476.1,1033.8 476.8,946.9 477.5,910.4 478.2,946.9 479.1,1033.8 480.0,1103.4 480.8,1101.7 481.6,1117.3 482.9,1105.2 483.9,1102.5 485.1,1115.6 486.9,1128.6 487.9,1129.6 489.0,1129.5 490.1,1129.6 491.2,1129.5 492.5,1129.6 493.8,1129.8 495.1,1129.5 496.4,1130.9 497.7,1130.2 499.0,1130.3 500.3,1131.9 501.6,1131.6 502.9,1130.9 504.2,1130.7 505.5,1130.4 506.8,1131.2 508.2,1130.7 509.5,1128.6 512.1,1132.6 513.2,1133.8 514.4,1133.8 515.5,1133.8 516.8,1133.1 518.1,1132.8 519.5,1132.7 520.8,1133.0 521.8,1132.7 522.9,1131.8 524.0,1132.2 525.1,1132.1 526.3,1131.9 527.5,1133.8 528.8,1134.2 530.0,1133.6 531.2,1133.8 532.5,1133.4 533.8,1135.1 535.1,1133.8 536.4,1134.4 538.0,1132.0 539.5,1130.4 542.5,1135.6 543.6,1133.9 544.8,1134.2 546.0,1133.8 547.0,1133.8 548.1,1133.8 549.2,1133.2 550.3,1133.8 551.6,1134.5 552.9,1134.0 554.2,1135.3 555.5,1136.4 556.6,1136.0 557.8,1137.1 558.9,1136.7 560.0,1138.2 561.1,1136.9 562.2,1137.3 563.3,1136.9 564.3,1137.3 566.1,1127.7 568.7,1133.8 570.0,1135.8 571.3,1137.3 572.4,1138.0 573.5,1139.2 574.6,1139.6 575.6,1139.9 576.7,1141.6 577.8,1143.2 578.9,1143.3 580.0,1144.8 582.6,1138.2 583.8,1119.1 584.9,1100.3 586.1,1119.1 587.1,1139.0 588.0,1119.1 589.0,1086.9 590.1,1119.1 590.9,1146.9 592.2,1157.3 593.5,1155.6 594.8,1154.7 597.4,1159.0 598.7,1158.4 600.0,1155.6 601.7,1149.0 603.8,1162.5 604.9,1162.6 606.1,1164.3 607.1,1165.1 608.2,1165.3 609.3,1164.3 610.4,1165.6 611.7,1166.0 613.0,1165.8 614.3,1164.9 615.6,1164.3 616.9,1165.0 618.2,1165.4 619.5,1164.1 620.8,1165.1 621.9,1165.0 623.0,1164.9 624.1,1165.5 625.2,1164.6 626.5,1164.1 627.8,1162.2 628.9,1163.9 630.1,1164.3 631.3,1165.1 634.7,1172.9 637.4,1181.6 639.1,1183.0 640.8,1171.2 642.0,1136.4 643.1,1084.3 644.0,1049.5 644.5,1033.0 645.2,1049.5 646.0,1101.7 646.9,1153.8 647.8,1192.1 649.5,1183.4 650.7,1182.5 652.1,1192.1 653.9,1201.6 655.6,1202.5 657.7,1197.3 659.9,1204.2 661.3,1206.4 662.6,1206.8 663.9,1207.5 665.2,1207.9 666.5,1207.2 667.8,1208.1 668.9,1206.3 669.9,1205.8 671.0,1205.5 672.1,1205.1 673.3,1205.1 674.4,1207.6 675.6,1207.7 676.8,1208.2 678.0,1208.7 679.2,1209.0 680.5,1209.5 681.7,1209.4 682.8,1209.6 684.0,1208.6 685.2,1210.5 686.3,1210.6 687.5,1210.2 688.6,1210.3 689.7,1210.5 690.8,1210.9 691.9,1209.7 693.0,1211.3 694.1,1210.3 695.1,1210.0 696.2,1210.6 697.3,1211.2 698.6,1211.3 699.9,1209.8 701.2,1210.7 702.5,1209.8 703.8,1211.3 705.1,1210.6 706.4,1210.8 707.7,1211.5 708.9,1211.6 710.1,1212.1 711.2,1212.4 712.4,1212.1 713.5,1212.3 714.7,1212.1 715.9,1211.3 717.0,1211.6 718.2,1211.9 719.3,1213.2 720.5,1212.3 721.7,1212.9 723.0,1213.1 724.3,1211.8 725.6,1212.0 726.9,1212.9 728.0,1213.1 729.2,1214.7 730.3,1215.0 733.0,1210.3 735.6,1215.0 736.9,1215.9 738.2,1216.3 739.5,1215.9 740.8,1216.7 742.0,1216.6 743.2,1216.4 744.4,1216.3 745.6,1215.4 746.9,1216.1 749.5,1222.5 750.6,1224.1 751.8,1223.3 752.9,1224.7 755.0,1214.7 756.6,1204.2 758.2,1212.9 759.9,1226.8 761.1,1228.0 762.2,1228.0 763.4,1227.2 764.7,1224.8 766.0,1224.5 767.4,1223.4 769.5,1230.3 770.5,1230.8 771.6,1230.9 772.7,1229.5 773.8,1229.4 774.9,1229.1 776.0,1229.2 777.1,1231.1 778.1,1230.3 780.8,1236.4 781.9,1236.0 783.1,1237.1 784.2,1237.3 785.6,1226.8 786.8,1216.1 788.1,1226.8 789.8,1237.3 791.1,1237.0 792.5,1238.5 793.8,1239.0 795.0,1240.3 796.2,1238.9 797.4,1240.7 798.7,1240.4 799.9,1240.7 801.2,1242.2 802.5,1242.5 803.8,1242.1 805.1,1243.3 806.4,1244.5 807.7,1243.9 809.0,1243.2 810.3,1244.6 811.6,1243.4 812.9,1244.4 814.2,1244.2 815.5,1244.2 816.7,1242.2 817.8,1240.2 819.0,1239.3 820.2,1240.5 821.3,1242.0 822.5,1243.9 823.8,1244.9 825.1,1243.4 826.4,1245.3 827.7,1245.1 828.8,1245.6 829.9,1243.8 830.9,1245.4 832.0,1244.2 833.2,1243.4 834.3,1241.6 836.4,1249.4" fill="none" stroke="#ff0000" stroke-width="3.00" stroke-linejoin="round" stroke-linecap="round" clip-path="url(#cc)"/>
<polyline points="1048.7,1201.1 1050.2,1191.5 1051.7,1192.9 1053.2,1193.4 1054.7,1203.3 1056.2,1196.9 1057.7,1193.4 1059.2,1194.7 1060.7,1192.4 1062.2,1189.0 1063.7,1190.1 1065.2,1202.1 1066.7,1193.5 1068.2,1204.1 1069.7,1193.4 1071.2,1193.9 1072.7,1198.0 1074.2,1193.1 1075.7,1196.1 1077.2,1205.5 1078.7,1204.3 1080.2,1203.1 1081.7,1200.3 1083.2,1204.8 1084.7,1205.2 1086.2,1198.9 1087.7,1201.7 1089.2,1190.9 1090.7,1201.9 1092.2,1197.4 1093.7,1202.0 1095.2,1200.2 1096.7,1194.3 1098.2,1190.3 1099.7,1204.2 1101.2,1193.2 1102.7,1196.8 1104.2,1195.2 1105.7,1194.6 1107.2,1199.3 1108.7,1201.7 1110.2,1193.8 1111.7,1198.1 1113.2,1194.2 1114.7,1197.0 1116.2,1195.3 1117.7,1192.8 1119.2,1192.7 1120.7,1193.2 1122.2,1200.9 1123.7,1196.4 1125.2,1193.3 1126.7,1200.9 1128.2,1201.9 1129.7,1196.0 1131.2,1192.7 1132.7,1193.3 1134.2,1192.3 1135.7,1195.1 1137.2,1192.4 1138.7,1194.1 1140.2,1194.4 1141.7,1197.9 1143.2,1201.5 1144.7,1200.1 1146.2,1196.4 1147.7,1196.5 1149.2,1197.8 1150.7,1196.3 1152.2,1195.9 1153.7,1192.9 1155.2,1195.4 1156.7,1203.1 1158.2,1193.9 1159.7,1198.1 1161.2,1199.6 1162.7,1202.2 1164.2,1195.2 1165.7,1195.8 1167.2,1195.7 1168.7,1197.4 1170.2,1198.0 1171.7,1203.7 1173.2,1202.6 1174.7,1202.9 1176.2,1193.6 1177.7,1193.8 1179.2,1201.3 1180.7,1203.4 1182.2,1198.7 1183.7,1200.0 1185.2,1193.5 1186.7,1197.8 1188.2,1203.7 1189.7,1202.6 1191.2,1202.9 1192.7,1204.2 1194.2,1196.3 1195.7,1194.7 1197.2,1195.2 1198.7,1199.2 1200.2,1200.8 1201.7,1203.6 1203.2,1201.1 1204.7,1200.2 1206.2,1201.5 1207.7,1198.0 1209.2,1199.0 1210.7,1193.2 1212.2,1201.3 1213.7,1195.2 1215.2,1202.6 1216.7,1199.3 1218.2,1195.3 1219.7,1193.2 1221.2,1194.3 1222.7,1198.3 1224.2,1198.8 1225.7,1192.1 1227.2,1191.4 1228.7,1196.2 1230.2,1196.6 1231.7,1194.2 1233.2,1192.1 1234.7,1196.0 1236.2,1189.2 1237.7,1192.2 1239.2,1193.6 1240.7,1198.8 1242.2,1195.1 1243.7,1197.4 1245.2,1192.6 1246.7,1187.4 1248.2,1184.5 1249.7,1187.9 1251.2,1184.6 1252.7,1181.4 1254.2,1179.2 1255.7,1183.8 1257.2,1185.8 1258.7,1183.0 1260.2,1180.9 1261.7,1184.0 1263.2,1185.7 1264.7,1178.8 1266.2,1176.4 1267.7,1178.5 1269.2,1179.3 1270.7,1181.8 1272.2,1177.6 1273.7,1183.1 1275.2,1182.7 1276.7,1180.7 1278.2,1178.0 1279.7,1184.8 1281.2,1178.7 1282.7,1183.2 1284.2,1177.7 1285.7,1177.5 1287.2,1182.2 1288.7,1177.9 1290.2,1183.5 1291.7,1179.2 1293.2,1176.1 1294.7,1176.2 1296.2,1177.7 1297.7,1179.7 1299.2,1181.2 1300.7,1172.5 1302.2,1173.2 1303.7,1170.2 1305.2,1176.1 1306.7,1167.7 1308.2,1165.9 1309.7,1165.0 1311.2,1166.7 1312.7,1167.5 1314.2,1165.2 1315.7,1162.0 1317.2,1161.2 1318.7,1158.4 1320.2,1151.9 1321.7,1145.0 1323.2,1144.3 1324.7,1139.2 1326.2,1130.1 1327.7,1128.6 1329.2,1121.9 1330.7,1117.4 1332.2,1112.5 1333.7,1104.0 1335.2,1095.5 1336.7,1090.2 1338.2,1083.9 1339.7,1079.9 1341.2,1067.3 1342.7,1060.3 1344.2,1050.3 1345.7,1042.4 1347.2,1031.6 1348.7,1018.6 1350.2,1005.7 1351.7,994.3 1353.2,988.6 1354.7,981.6 1356.2,975.4 1357.7,966.2 1359.2,962.4 1360.7,961.1 1362.2,959.9 1363.7,961.9 1365.2,966.0 1366.7,970.4 1368.2,974.2 1369.7,982.5 1371.2,990.8 1372.7,1004.7 1374.2,1015.3 1375.7,1029.5 1377.2,1042.9 1378.7,1054.5 1380.2,1067.4 1381.7,1082.0 1383.2,1091.7 1384.7,1101.3 1386.2,1112.4 1387.7,1121.2 1389.2,1130.5 1390.7,1138.9 1392.2,1149.1 1393.7,1157.4 1395.2,1162.1 1396.7,1168.5 1398.2,1167.0 1399.7,1172.0 1401.2,1177.0 1402.7,1182.9 1404.2,1185.9 1405.7,1183.8 1407.2,1184.3 1408.7,1186.6 1410.2,1187.7 1411.7,1193.5 1413.2,1184.0 1414.7,1192.3 1416.2,1191.6 1417.7,1192.6 1419.2,1191.7 1420.7,1189.4 1422.2,1185.6 1423.7,1185.1 1425.2,1184.5 1426.7,1188.9 1428.2,1178.6 1429.7,1179.0 1431.2,1186.1 1432.7,1180.1 1434.2,1178.2 1435.7,1178.4 1437.2,1185.7 1438.7,1182.3 1440.2,1190.2 1441.7,1188.4 1443.2,1189.2 1444.7,1179.6 1446.2,1177.8 1447.7,1178.5 1449.2,1184.3 1450.7,1187.6 1452.2,1184.4 1453.7,1181.6 1455.2,1184.0 1456.7,1186.6 1458.2,1187.4 1459.7,1189.8 1461.2,1192.6 1462.7,1189.4 1464.2,1180.6 1465.7,1188.2 1467.2,1179.6 1468.7,1182.2 1470.2,1178.7 1471.7,1182.5 1473.2,1174.6 1474.7,1174.5 1476.2,1174.0 1477.7,1172.3 1479.2,1180.8 1480.7,1171.6 1482.2,1164.8 1483.7,1161.4 1485.2,1164.8 1486.7,1159.7 1488.2,1156.2 1489.7,1159.2 1491.2,1155.0 1492.7,1154.7 1494.2,1144.6 1495.7,1142.5 1497.2,1139.3 1498.7,1133.2 1500.2,1124.7 1501.7,1116.4 1503.2,1109.7 1504.7,1101.6 1506.2,1093.9 1507.7,1087.0 1509.2,1077.2 1510.7,1069.7 1512.2,1062.5 1513.7,1057.5 1515.2,1048.5 1516.7,1036.2 1518.2,1023.3 1519.7,1008.7 1521.2,992.0 1522.7,977.8 1524.2,961.9 1525.7,943.8 1527.2,925.1 1528.7,910.1 1530.2,897.8 1531.7,887.8 1533.2,882.5 1534.7,874.1 1536.2,865.2 1537.7,863.5 1539.2,863.5 1540.7,867.1 1542.2,869.1 1543.7,873.1 1545.2,890.8 1546.7,902.3 1548.2,922.4 1549.7,935.0 1551.2,954.6 1552.7,971.5 1554.2,988.0 1555.7,1003.8 1557.2,1017.8 1558.7,1035.8 1560.2,1056.1 1561.7,1071.1 1563.2,1087.0 1564.7,1104.0 1566.2,1120.1 1567.7,1142.5 1569.2,1151.0 1570.7,1157.0 1572.2,1165.4 1573.7,1175.8 1575.2,1182.2 1576.7,1181.0 1578.2,1182.7 1579.7,1189.3 1581.2,1189.5 1582.7,1192.0 1584.2,1201.1 1585.7,1201.4 1587.2,1206.2 1588.7,1206.1 1590.2,1212.6 1591.7,1210.8 1593.2,1209.5 1594.7,1206.9 1596.2,1210.8 1597.7,1211.0 1599.2,1214.2 1600.7,1207.0 1602.2,1212.4 1603.7,1210.0 1605.2,1211.3 1606.7,1207.8 1608.2,1209.2 1609.7,1211.2 1611.2,1214.8 1612.7,1206.7 1614.2,1213.4 1615.7,1219.7 1617.2,1223.5 1618.7,1218.4 1620.2,1219.0 1621.7,1228.0 1623.2,1228.5 1624.7,1223.0 1626.2,1218.1 1627.7,1225.8 1629.2,1222.2 1630.7,1228.6 1632.2,1227.4 1633.7,1230.4 1635.2,1224.8 1636.7,1231.6 1638.2,1226.6 1639.7,1225.7 1641.2,1227.2 1642.7,1225.6 1644.2,1223.6 1645.7,1228.2 1647.2,1232.2 1648.7,1230.8 1650.2,1227.0 1651.7,1222.0 1653.2,1221.5 1654.7,1224.6 1656.2,1227.3 1657.7,1222.7 1659.2,1231.3 1660.7,1234.4 1662.2,1227.3 1663.7,1234.7 1665.2,1227.5 1666.7,1231.2 1668.2,1229.9 1669.7,1229.8 1671.2,1226.0 1672.7,1228.3 1674.2,1231.1 1675.7,1230.9 1677.2,1235.4 1678.7,1236.4 1680.2,1238.4 1681.7,1234.0 1683.2,1239.3 1684.7,1237.7 1686.2,1234.9 1687.7,1240.5 1689.2,1241.6 1690.7,1239.6 1692.2,1237.7 1693.7,1240.5 1695.2,1237.0 1696.7,1237.2 1698.2,1239.6 1699.7,1235.6 1701.2,1238.2 1702.7,1238.2 1704.2,1233.5 1705.7,1238.9 1707.2,1233.4 1708.7,1241.8 1710.2,1245.2 1711.7,1246.0 1713.2,1245.7 1714.7,1247.9 1716.2,1241.7 1717.7,1246.5 1719.2,1238.3 1720.7,1246.6 1722.2,1250.5" fill="none" stroke="#00aa00" stroke-width="4.20" stroke-linejoin="round" stroke-linecap="round" clip-path="url(#cd)"/>
<polyline points="160.6,1914.2 170.3,1916.2 179.9,1915.7 189.6,1915.5 199.2,1914.7 208.9,1913.8 218.5,1914.7 228.2,1914.3 237.8,1909.7 247.5,1909.5 257.1,1912.1 266.8,1911.6 276.4,1910.8 286.1,1910.3 295.7,1909.3 305.4,1909.6 315.0,1908.7 324.7,1907.5 334.4,1904.2 344.0,1903.7 353.7,1900.7 363.3,1897.5 373.0,1894.5 382.6,1893.6 392.3,1890.9 401.9,1885.7 411.6,1881.6 421.2,1877.8 430.9,1873.1 440.5,1871.0 450.2,1868.4 459.8,1867.6 469.5,1865.3 479.1,1860.4 488.8,1854.6 498.4,1848.3 508.1,1836.9 517.8,1826.2 527.4,1816.9 537.1,1806.3 546.7,1791.8 556.4,1780.0 566.0,1760.4 575.7,1728.8 585.3,1691.1 595.0,1645.9 604.6,1591.6 614.3,1551.3 623.9,1567.8 633.6,1637.2 643.2,1741.4 652.9,1803.4 662.5,1856.7 672.2,1898.8 681.9,1916.5 691.5,1924.2 701.2,1927.9 710.8,1932.3 720.5,1937.7 730.1,1939.6 739.8,1940.5 749.4,1939.3 759.1,1940.8 768.7,1942.8 778.4,1945.5 788.0,1944.4 797.7,1945.1 807.3,1943.7 817.0,1941.4 826.6,1941.3 836.3,1941.3" fill="none" stroke="#000" stroke-width="4.30" stroke-linejoin="round" stroke-linecap="round" clip-path="url(#ce)"/>
<polyline points="160.6,1918.3 170.3,1918.3 179.9,1918.2 189.6,1918.2 199.2,1918.1 208.9,1918.0 218.5,1917.9 228.2,1917.7 237.8,1917.5 247.5,1917.2 257.1,1916.8 266.8,1916.3 276.4,1915.6 286.1,1914.7 295.7,1913.5 305.4,1912.1 315.0,1910.4 324.7,1908.4 334.4,1906.1 344.0,1903.4 353.7,1900.5 363.3,1897.4 373.0,1894.1 382.6,1890.8 392.3,1887.5 401.9,1884.4 411.6,1881.5 421.2,1878.9 430.9,1876.5 440.5,1874.2 450.2,1871.8 459.8,1869.2 469.5,1866.0 479.1,1861.8 488.8,1855.8 498.4,1847.8 508.1,1837.5 517.8,1825.3 527.4,1811.5 537.1,1796.8 546.7,1781.3 556.4,1763.8 566.0,1740.4 575.7,1707.9 585.3,1671.4 595.0,1626.0 604.6,1577.8 614.3,1556.0 623.9,1584.6 633.6,1646.4 643.2,1718.2 652.9,1782.9 662.5,1832.9 672.2,1867.2 681.9,1889.0 691.5,1902.2 701.2,1910.4 710.8,1915.8 720.5,1919.8 730.1,1923.0 739.8,1925.5 749.4,1927.6 759.1,1929.4 768.7,1930.9 778.4,1932.1 788.0,1933.1 797.7,1934.0 807.3,1934.7 817.0,1935.3 826.6,1935.8 836.3,1936.2" fill="none" stroke="#ff0000" stroke-width="4.30" stroke-linejoin="round" stroke-linecap="round" clip-path="url(#ce)"/>
<polyline points="160.6,1923.0 170.3,1923.0 179.9,1923.0 189.6,1923.0 199.2,1923.0 208.9,1923.0 218.5,1923.0 228.2,1923.0 237.8,1923.0 247.5,1923.0 257.1,1923.0 266.8,1923.0 276.4,1923.0 286.1,1923.0 295.7,1923.0 305.4,1923.0 315.0,1923.0 324.7,1923.0 334.4,1923.0 344.0,1923.0 353.7,1923.0 363.3,1923.0 373.0,1923.1 382.6,1923.1 392.3,1923.1 401.9,1923.1 411.6,1923.1 421.2,1923.2 430.9,1923.2 440.5,1923.3 450.2,1923.4 459.8,1923.5 469.5,1923.6 479.1,1923.8 488.8,1924.1 498.4,1924.4 508.1,1924.8 517.8,1925.3 527.4,1925.9 537.1,1926.7 546.7,1927.6 556.4,1928.6 566.0,1929.8 575.7,1931.1 585.3,1932.4 595.0,1933.8 604.6,1935.2 614.3,1936.4 623.9,1937.6 633.6,1938.6 643.2,1939.4 652.9,1940.2 662.5,1940.7 672.2,1941.2 681.9,1941.6 691.5,1941.9 701.2,1942.1 710.8,1942.3 720.5,1942.4 730.1,1942.5 739.8,1942.6 749.4,1942.7 759.1,1942.7 768.7,1942.7 778.4,1942.8 788.0,1942.8 797.7,1942.8 807.3,1942.8 817.0,1942.8 826.6,1942.8 836.3,1942.8" fill="none" stroke="#0000ff" stroke-width="4.30" stroke-linejoin="round" stroke-linecap="round" clip-path="url(#ce)"/>
<polyline points="160.6,1921.4 170.3,1921.3 179.9,1921.3 189.6,1921.3 199.2,1921.2 208.9,1921.2 218.5,1921.1 228.2,1921.1 237.8,1921.0 247.5,1920.9 257.1,1920.9 266.8,1920.8 276.4,1920.7 286.1,1920.6 295.7,1920.5 305.4,1920.4 315.0,1920.3 324.7,1920.2 334.4,1920.1 344.0,1920.0 353.7,1919.8 363.3,1919.7 373.0,1919.5 382.6,1919.3 392.3,1919.1 401.9,1918.8 411.6,1918.6 421.2,1918.3 430.9,1917.9 440.5,1917.5 450.2,1917.0 459.8,1916.5 469.5,1915.8 479.1,1915.0 488.8,1914.1 498.4,1912.8 508.1,1911.2 517.8,1909.1 527.4,1906.1 537.1,1901.7 546.7,1894.6 556.4,1883.0 566.0,1863.8 575.7,1833.4 585.3,1789.4 595.0,1733.1 604.6,1674.7 614.3,1639.6 623.9,1653.8 633.6,1709.2 643.2,1773.2 652.9,1826.4 662.5,1864.4 672.2,1889.1 681.9,1904.3 691.5,1913.6 701.2,1919.7 710.8,1923.9 720.5,1927.1 730.1,1929.5 739.8,1931.4 749.4,1933.0 759.1,1934.2 768.7,1935.3 778.4,1936.1 788.0,1936.9 797.7,1937.5 807.3,1938.0 817.0,1938.5 826.6,1938.9 836.3,1939.2" fill="none" stroke="#ff00ff" stroke-width="4.30" stroke-linejoin="round" stroke-linecap="round" clip-path="url(#ce)"/>
<polyline points="160.6,1919.9 170.3,1919.9 179.9,1919.9 189.6,1919.8 199.2,1919.8 208.9,1919.8 218.5,1919.7 228.2,1919.7 237.8,1919.6 247.5,1919.6 257.1,1919.5 266.8,1919.4 276.4,1919.4 286.1,1919.3 295.7,1919.2 305.4,1919.1 315.0,1919.0 324.7,1918.9 334.4,1918.7 344.0,1918.6 353.7,1918.4 363.3,1918.2 373.0,1918.0 382.6,1917.7 392.3,1917.3 401.9,1916.9 411.6,1916.3 421.2,1915.5 430.9,1914.3 440.5,1912.6 450.2,1910.2 459.8,1906.7 469.5,1901.9 479.1,1895.5 488.8,1887.3 498.4,1877.3 508.1,1865.6 517.8,1852.8 527.4,1840.0 537.1,1828.2 546.7,1818.4 556.4,1811.1 566.0,1807.1 575.7,1807.5 585.3,1812.9 595.0,1822.6 604.6,1835.6 614.3,1850.3 623.9,1865.5 633.6,1879.9 643.2,1893.0 652.9,1904.1 662.5,1913.2 672.2,1920.4 681.9,1925.8 691.5,1929.7 701.2,1932.5 710.8,1934.4 720.5,1935.8 730.1,1936.7 739.8,1937.4 749.4,1937.8 759.1,1938.2 768.7,1938.5 778.4,1938.8 788.0,1939.0 797.7,1939.2 807.3,1939.3 817.0,1939.5 826.6,1939.6 836.3,1939.7" fill="none" stroke="#008000" stroke-width="4.30" stroke-linejoin="round" stroke-linecap="round" clip-path="url(#ce)"/>
<polyline points="160.6,1921.3 170.3,1921.3 179.9,1921.3 189.6,1921.3 199.2,1921.3 208.9,1921.3 218.5,1921.2 228.2,1921.1 237.8,1921.0 247.5,1920.9 257.1,1920.6 266.8,1920.2 276.4,1919.7 286.1,1919.0 295.7,1918.0 305.4,1916.7 315.0,1915.1 324.7,1913.1 334.4,1910.8 344.0,1908.2 353.7,1905.3 363.3,1902.2 373.0,1899.0 382.6,1896.1 392.3,1893.4 401.9,1891.1 411.6,1889.5 421.2,1888.7 430.9,1888.6 440.5,1889.7 450.2,1891.7 459.8,1894.6 469.5,1898.2 479.1,1902.0 488.8,1906.0 498.4,1909.8 508.1,1913.4 517.8,1916.6 527.4,1919.5 537.1,1922.0 546.7,1924.3 556.4,1926.5 566.0,1928.5 575.7,1930.3 585.3,1932.1 595.0,1933.7 604.6,1935.2 614.3,1936.6 623.9,1937.7 633.6,1938.6 643.2,1939.4 652.9,1940.1 662.5,1940.6 672.2,1940.9 681.9,1941.2 691.5,1941.5 701.2,1941.7 710.8,1941.8 720.5,1941.9 730.1,1942.0 739.8,1942.0 749.4,1942.1 759.1,1942.1 768.7,1942.1 778.4,1942.1 788.0,1942.2 797.7,1942.2 807.3,1942.2 817.0,1942.2 826.6,1942.2 836.3,1942.2" fill="none" stroke="#000080" stroke-width="4.30" stroke-linejoin="round" stroke-linecap="round" clip-path="url(#ce)"/>
<polyline points="1046.6,1928.5 1052.5,1926.6 1058.4,1927.1 1064.3,1927.9 1070.1,1927.0 1076.0,1927.7 1081.9,1926.3 1087.8,1927.3 1093.7,1927.2 1099.6,1926.7 1105.4,1927.9 1111.3,1927.6 1117.2,1927.0 1123.1,1926.3 1129.0,1924.7 1134.9,1922.9 1140.8,1925.8 1146.6,1926.6 1152.5,1924.4 1158.4,1923.5 1164.3,1923.1 1170.2,1921.5 1176.1,1919.3 1182.0,1914.2 1187.8,1915.4 1193.7,1912.8 1199.6,1909.3 1205.5,1905.2 1211.4,1902.1 1217.3,1899.7 1223.1,1891.1 1229.0,1884.8 1234.9,1878.8 1240.8,1872.1 1246.7,1861.8 1252.6,1851.1 1258.5,1841.6 1264.3,1833.3 1270.2,1819.8 1276.1,1807.8 1282.0,1796.9 1287.9,1781.9 1293.8,1764.0 1299.7,1748.4 1305.5,1734.0 1311.4,1721.0 1317.3,1708.8 1323.2,1688.5 1329.1,1667.7 1335.0,1655.8 1340.8,1641.2 1346.7,1621.7 1352.6,1605.8 1358.5,1592.1 1364.4,1579.1 1370.3,1567.8 1376.2,1555.3 1382.0,1546.5 1387.9,1544.9 1393.8,1538.1 1399.7,1542.9 1405.6,1540.2 1411.5,1540.7 1417.4,1543.7 1423.2,1548.4 1429.1,1556.0 1435.0,1570.0 1440.9,1577.1 1446.8,1586.2 1452.7,1598.7 1458.5,1612.3 1464.4,1625.8 1470.3,1642.3 1476.2,1659.5 1482.1,1677.0 1488.0,1692.7 1493.9,1710.3 1499.7,1730.9 1505.6,1748.2 1511.5,1768.2 1517.4,1784.7 1523.3,1800.7 1529.2,1815.3 1535.1,1828.5 1540.9,1841.2 1546.8,1852.9 1552.7,1861.9 1558.6,1871.5 1564.5,1881.1 1570.4,1889.7 1576.2,1896.9 1582.1,1901.0 1588.0,1909.7 1593.9,1915.7 1599.8,1919.2 1605.7,1922.2 1611.6,1925.0 1617.4,1926.6 1623.3,1931.2 1629.2,1933.5 1635.1,1931.9 1641.0,1933.7 1646.9,1936.1 1652.8,1934.6 1658.6,1934.5 1664.5,1937.0 1670.4,1938.7 1676.3,1939.2 1682.2,1940.8 1688.1,1942.9 1693.9,1938.9 1699.8,1941.8 1705.7,1942.6 1711.6,1938.9 1717.5,1939.9" fill="none" stroke="#000" stroke-width="4.30" stroke-linejoin="round" stroke-linecap="round" clip-path="url(#cf)"/>
<polyline points="1046.6,1929.3 1052.5,1929.2 1058.4,1929.1 1064.3,1929.0 1070.1,1928.8 1076.0,1928.7 1081.9,1928.5 1087.8,1928.3 1093.7,1928.1 1099.6,1927.9 1105.4,1927.6 1111.3,1927.3 1117.2,1926.9 1123.1,1926.4 1129.0,1925.9 1134.9,1925.2 1140.8,1924.5 1146.6,1923.6 1152.5,1922.6 1158.4,1921.4 1164.3,1920.0 1170.2,1918.3 1176.1,1916.4 1182.0,1914.3 1187.8,1911.7 1193.7,1908.9 1199.6,1905.6 1205.5,1901.8 1211.4,1897.6 1217.3,1892.8 1223.1,1887.4 1229.0,1881.3 1234.9,1874.6 1240.8,1867.2 1246.7,1858.9 1252.6,1849.9 1258.5,1840.0 1264.3,1829.3 1270.2,1817.7 1276.1,1805.3 1282.0,1792.0 1287.9,1777.9 1293.8,1763.1 1299.7,1747.9 1305.5,1733.0 1311.4,1719.6 1317.3,1706.0 1323.2,1690.2 1329.1,1673.3 1335.0,1656.3 1340.8,1639.5 1346.7,1623.2 1352.6,1607.9 1358.5,1593.9 1364.4,1581.3 1370.3,1570.2 1376.2,1560.8 1382.0,1553.0 1387.9,1546.9 1393.8,1542.6 1399.7,1540.2 1405.6,1539.5 1411.5,1540.7 1417.4,1543.7 1423.2,1548.5 1429.1,1555.2 1435.0,1563.5 1440.9,1573.5 1446.8,1585.0 1452.7,1597.9 1458.5,1612.0 1464.4,1627.1 1470.3,1643.2 1476.2,1659.9 1482.1,1677.1 1488.0,1694.5 1493.9,1712.1 1499.7,1729.6 1505.6,1746.8 1511.5,1763.7 1517.4,1779.9 1523.3,1795.5 1529.2,1810.4 1535.1,1824.4 1540.9,1837.4 1546.8,1849.6 1552.7,1860.7 1558.6,1870.9 1564.5,1880.2 1570.4,1888.5 1576.2,1895.9 1582.1,1902.5 1588.0,1908.3 1593.9,1913.4 1599.8,1917.8 1605.7,1921.6 1611.6,1924.9 1617.4,1927.6 1623.3,1930.0 1629.2,1931.9 1635.1,1933.6 1641.0,1934.9 1646.9,1936.1 1652.8,1937.0 1658.6,1937.8 1664.5,1938.4 1670.4,1938.9 1676.3,1939.3 1682.2,1939.6 1688.1,1939.8 1693.9,1940.0 1699.8,1940.2 1705.7,1940.3 1711.6,1940.4 1717.5,1940.5" fill="none" stroke="#ff0000" stroke-width="4.30" stroke-linejoin="round" stroke-linecap="round" clip-path="url(#cf)"/>
<polyline points="1046.6,1931.9 1052.5,1931.9 1058.4,1931.9 1064.3,1931.9 1070.1,1931.9 1076.0,1931.9 1081.9,1931.9 1087.8,1931.9 1093.7,1931.9 1099.6,1931.9 1105.4,1931.9 1111.3,1931.9 1117.2,1931.9 1123.1,1931.9 1129.0,1931.9 1134.9,1931.9 1140.8,1931.9 1146.6,1931.9 1152.5,1932.0 1158.4,1932.0 1164.3,1932.0 1170.2,1932.0 1176.1,1932.0 1182.0,1932.0 1187.8,1932.0 1193.7,1932.0 1199.6,1932.0 1205.5,1932.0 1211.4,1932.0 1217.3,1932.1 1223.1,1932.1 1229.0,1932.1 1234.9,1932.1 1240.8,1932.2 1246.7,1932.2 1252.6,1932.2 1258.5,1932.3 1264.3,1932.3 1270.2,1932.3 1276.1,1932.4 1282.0,1932.5 1287.9,1932.5 1293.8,1932.6 1299.7,1932.7 1305.5,1932.8 1311.4,1932.9 1317.3,1933.0 1323.2,1933.1 1329.1,1933.3 1335.0,1933.4 1340.8,1933.6 1346.7,1933.7 1352.6,1933.9 1358.5,1934.1 1364.4,1934.3 1370.3,1934.6 1376.2,1934.8 1382.0,1935.0 1387.9,1935.3 1393.8,1935.6 1399.7,1935.9 1405.6,1936.1 1411.5,1936.4 1417.4,1936.7 1423.2,1937.0 1429.1,1937.3 1435.0,1937.6 1440.9,1937.8 1446.8,1938.1 1452.7,1938.4 1458.5,1938.6 1464.4,1938.8 1470.3,1939.0 1476.2,1939.2 1482.1,1939.4 1488.0,1939.6 1493.9,1939.8 1499.7,1939.9 1505.6,1940.0 1511.5,1940.2 1517.4,1940.3 1523.3,1940.4 1529.2,1940.5 1535.1,1940.6 1540.9,1940.6 1546.8,1940.7 1552.7,1940.8 1558.6,1940.8 1564.5,1940.9 1570.4,1940.9 1576.2,1941.0 1582.1,1941.0 1588.0,1941.0 1593.9,1941.1 1599.8,1941.1 1605.7,1941.1 1611.6,1941.1 1617.4,1941.1 1623.3,1941.1 1629.2,1941.2 1635.1,1941.2 1641.0,1941.2 1646.9,1941.2 1652.8,1941.2 1658.6,1941.2 1664.5,1941.2 1670.4,1941.2 1676.3,1941.2 1682.2,1941.2 1688.1,1941.2 1693.9,1941.2 1699.8,1941.2 1705.7,1941.2 1711.6,1941.2 1717.5,1941.3" fill="none" stroke="#0000ff" stroke-width="4.30" stroke-linejoin="round" stroke-linecap="round" clip-path="url(#cf)"/>
<polyline points="1046.6,1931.7 1052.5,1931.7 1058.4,1931.7 1064.3,1931.7 1070.1,1931.7 1076.0,1931.7 1081.9,1931.7 1087.8,1931.7 1093.7,1931.7 1099.6,1931.7 1105.4,1931.6 1111.3,1931.6 1117.2,1931.6 1123.1,1931.6 1129.0,1931.5 1134.9,1931.5 1140.8,1931.4 1146.6,1931.4 1152.5,1931.3 1158.4,1931.1 1164.3,1930.9 1170.2,1930.7 1176.1,1930.4 1182.0,1930.1 1187.8,1929.6 1193.7,1929.0 1199.6,1928.3 1205.5,1927.4 1211.4,1926.4 1217.3,1925.1 1223.1,1923.5 1229.0,1921.6 1234.9,1919.3 1240.8,1916.7 1246.7,1913.6 1252.6,1909.9 1258.5,1905.7 1264.3,1900.9 1270.2,1895.4 1276.1,1889.1 1282.0,1882.1 1287.9,1874.3 1293.8,1865.7 1299.7,1856.2 1305.5,1845.9 1311.4,1834.8 1317.3,1822.9 1323.2,1810.3 1329.1,1797.1 1335.0,1783.3 1340.8,1769.2 1346.7,1754.7 1352.6,1740.2 1358.5,1725.8 1364.4,1711.6 1370.3,1697.9 1376.2,1684.9 1382.0,1672.9 1387.9,1662.1 1393.8,1652.8 1399.7,1645.6 1405.6,1640.7 1411.5,1637.8 1417.4,1636.4 1423.2,1636.2 1429.1,1637.1 1435.0,1639.6 1440.9,1643.8 1446.8,1649.6 1452.7,1657.1 1458.5,1666.1 1464.4,1676.5 1470.3,1688.1 1476.2,1700.7 1482.1,1714.1 1488.0,1728.1 1493.9,1742.5 1499.7,1757.1 1505.6,1771.7 1511.5,1786.1 1517.4,1800.2 1523.3,1813.9 1529.2,1827.0 1535.1,1839.4 1540.9,1851.0 1546.8,1861.9 1552.7,1871.9 1558.6,1881.1 1564.5,1889.4 1570.4,1897.0 1576.2,1903.7 1582.1,1909.6 1588.0,1914.8 1593.9,1919.4 1599.8,1923.4 1605.7,1926.8 1611.6,1929.7 1617.4,1932.2 1623.3,1934.2 1629.2,1936.0 1635.1,1937.4 1641.0,1938.6 1646.9,1939.6 1652.8,1940.4 1658.6,1941.0 1664.5,1941.5 1670.4,1941.9 1676.3,1942.3 1682.2,1942.5 1688.1,1942.7 1693.9,1942.9 1699.8,1943.0 1705.7,1943.1 1711.6,1943.1 1717.5,1943.2" fill="none" stroke="#ff00ff" stroke-width="4.30" stroke-linejoin="round" stroke-linecap="round" clip-path="url(#cf)"/>
<polyline points="1046.6,1930.3 1052.5,1930.2 1058.4,1930.1 1064.3,1930.0 1070.1,1929.9 1076.0,1929.7 1081.9,1929.5 1087.8,1929.2 1093.7,1928.9 1099.6,1928.6 1105.4,1928.2 1111.3,1927.8 1117.2,1927.3 1123.1,1926.7 1129.0,1926.1 1134.9,1925.5 1140.8,1924.8 1146.6,1924.0 1152.5,1923.3 1158.4,1922.4 1164.3,1921.5 1170.2,1920.3 1176.1,1918.9 1182.0,1917.1 1187.8,1914.9 1193.7,1912.3 1199.6,1909.2 1205.5,1905.8 1211.4,1902.0 1217.3,1897.8 1223.1,1893.4 1229.0,1888.6 1234.9,1883.6 1240.8,1878.3 1246.7,1872.9 1252.6,1867.3 1258.5,1861.6 1264.3,1855.9 1270.2,1850.1 1276.1,1844.4 1282.0,1838.9 1287.9,1833.5 1293.8,1828.3 1299.7,1823.5 1305.5,1819.0 1311.4,1814.9 1317.3,1811.3 1323.2,1808.3 1329.1,1805.8 1335.0,1803.9 1340.8,1802.6 1346.7,1802.0 1352.6,1802.1 1358.5,1802.9 1364.4,1804.4 1370.3,1806.6 1376.2,1809.4 1382.0,1812.9 1387.9,1816.9 1393.8,1821.5 1399.7,1826.4 1405.6,1831.7 1411.5,1837.3 1417.4,1843.2 1423.2,1849.1 1429.1,1855.2 1435.0,1861.2 1440.9,1867.2 1446.8,1873.1 1452.7,1878.9 1458.5,1884.4 1464.4,1889.8 1470.3,1894.8 1476.2,1899.5 1482.1,1904.0 1488.0,1908.1 1493.9,1911.9 1499.7,1915.4 1505.6,1918.6 1511.5,1921.5 1517.4,1924.1 1523.3,1926.4 1529.2,1928.4 1535.1,1930.2 1540.9,1931.8 1546.8,1933.2 1552.7,1934.4 1558.6,1935.4 1564.5,1936.3 1570.4,1937.0 1576.2,1937.7 1582.1,1938.2 1588.0,1938.7 1593.9,1939.0 1599.8,1939.3 1605.7,1939.6 1611.6,1939.8 1617.4,1940.0 1623.3,1940.1 1629.2,1940.2 1635.1,1940.3 1641.0,1940.4 1646.9,1940.5 1652.8,1940.5 1658.6,1940.6 1664.5,1940.6 1670.4,1940.6 1676.3,1940.6 1682.2,1940.7 1688.1,1940.7 1693.9,1940.7 1699.8,1940.7 1705.7,1940.7 1711.6,1940.7 1717.5,1940.7" fill="none" stroke="#008000" stroke-width="4.30" stroke-linejoin="round" stroke-linecap="round" clip-path="url(#cf)"/>
<text x="143.0" y="555.8" font-size="28.80" font-family='"Liberation Serif", "DejaVu Serif", serif' font-weight="bold" text-anchor="end">0</text>
<text x="143.0" y="472.0" font-size="28.80" font-family='"Liberation Serif", "DejaVu Serif", serif' font-weight="bold" text-anchor="end">10000</text>
<text x="143.0" y="388.1" font-size="28.80" font-family='"Liberation Serif", "DejaVu Serif", serif' font-weight="bold" text-anchor="end">20000</text>
<text x="143.0" y="304.3" font-size="28.80" font-family='"Liberation Serif", "DejaVu Serif", serif' font-weight="bold" text-anchor="end">30000</text>
<text x="143.0" y="220.4" font-size="28.80" font-family='"Liberation Serif", "DejaVu Serif", serif' font-weight="bold" text-anchor="end">40000</text>
<text x="143.0" y="136.6" font-size="28.80" font-family='"Liberation Serif", "DejaVu Serif", serif' font-weight="bold" text-anchor="end">50000</text>
<text x="143.0" y="52.7" font-size="28.80" font-family='"Liberation Serif", "DejaVu Serif", serif' font-weight="bold" text-anchor="end">60000</text>
<text x="837.5" y="586.8" font-size="28.80" font-family='"Liberation Serif", "DejaVu Serif", serif' font-weight="bold" text-anchor="middle">0</text>
<text x="702.3" y="586.8" font-size="28.80" font-family='"Liberation Serif", "DejaVu Serif", serif' font-weight="bold" text-anchor="middle">200</text>
<text x="567.1" y="586.8" font-size="28.80" font-family='"Liberation Serif", "DejaVu Serif", serif' font-weight="bold" text-anchor="middle">400</text>
<text x="431.9" y="586.8" font-size="28.80" font-family='"Liberation Serif", "DejaVu Serif", serif' font-weight="bold" text-anchor="middle">600</text>
<text x="296.7" y="586.8" font-size="28.80" font-family='"Liberation Serif", "DejaVu Serif", serif' font-weight="bold" text-anchor="middle">800</text>
<text x="161.5" y="586.8" font-size="28.80" font-family='"Liberation Serif", "DejaVu Serif", serif' font-weight="bold" text-anchor="middle">1000</text>
<text x="1029.0" y="555.8" font-size="28.80" font-family='"Liberation Serif", "DejaVu Serif", serif' font-weight="bold" text-anchor="end">15000</text>
<text x="1029.0" y="437.3" font-size="28.80" font-family='"Liberation Serif", "DejaVu Serif", serif' font-weight="bold" text-anchor="end">20000</text>
<text x="1029.0" y="318.8" font-size="28.80" font-family='"Liberation Serif", "DejaVu Serif", serif' font-weight="bold" text-anchor="end">25000</text>
<text x="1029.0" y="200.4" font-size="28.80" font-family='"Liberation Serif", "DejaVu Serif", serif' font-weight="bold" text-anchor="end">30000</text>
<text x="1029.0" y="81.9" font-size="28.80" font-family='"Liberation Serif", "DejaVu Serif", serif' font-weight="bold" text-anchor="end">35000</text>
<text x="1639.0" y="586.8" font-size="28.80" font-family='"Liberation Serif", "DejaVu Serif", serif' font-weight="bold" text-anchor="middle">364</text>
<text x="1526.3" y="586.8" font-size="28.80" font-family='"Liberation Serif", "DejaVu Serif", serif' font-weight="bold" text-anchor="middle">368</text>
<text x="1413.7" y="586.8" font-size="28.80" font-family='"Liberation Serif", "DejaVu Serif", serif' font-weight="bold" text-anchor="middle">372</text>
<text x="1301.0" y="586.8" font-size="28.80" font-family='"Liberation Serif", "DejaVu Serif", serif' font-weight="bold" text-anchor="middle">376</text>
<text x="1188.3" y="586.8" font-size="28.80" font-family='"Liberation Serif", "DejaVu Serif", serif' font-weight="bold" text-anchor="middle">380</text>
<text x="1075.7" y="586.8" font-size="28.80" font-family='"Liberation Serif", "DejaVu Serif", serif' font-weight="bold" text-anchor="middle">384</text>
<text x="143.0" y="1267.8" font-size="28.80" font-family='"Liberation Serif", "DejaVu Serif", serif' font-weight="bold" text-anchor="end">0</text>
<text x="143.0" y="1131.5" font-size="28.80" font-family='"Liberation Serif", "DejaVu Serif", serif' font-weight="bold" text-anchor="end">20000</text>
<text x="143.0" y="995.3" font-size="28.80" font-family='"Liberation Serif", "DejaVu Serif", serif' font-weight="bold" text-anchor="end">40000</text>
<text x="143.0" y="859.0" font-size="28.80" font-family='"Liberation Serif", "DejaVu Serif", serif' font-weight="bold" text-anchor="end">60000</text>
<text x="143.0" y="722.8" font-size="28.80" font-family='"Liberation Serif", "DejaVu Serif", serif' font-weight="bold" text-anchor="end">80000</text>
<text x="837.5" y="1298.8" font-size="28.80" font-family='"Liberation Serif", "DejaVu Serif", serif' font-weight="bold" text-anchor="middle">0</text>
<text x="702.3" y="1298.8" font-size="28.80" font-family='"Liberation Serif", "DejaVu Serif", serif' font-weight="bold" text-anchor="middle">200</text>
<text x="567.1" y="1298.8" font-size="28.80" font-family='"Liberation Serif", "DejaVu Serif", serif' font-weight="bold" text-anchor="middle">400</text>
<text x="431.9" y="1298.8" font-size="28.80" font-family='"Liberation Serif", "DejaVu Serif", serif' font-weight="bold" text-anchor="middle">600</text>
<text x="296.7" y="1298.8" font-size="28.80" font-family='"Liberation Serif", "DejaVu Serif", serif' font-weight="bold" text-anchor="middle">800</text>
<text x="161.5" y="1298.8" font-size="28.80" font-family='"Liberation Serif", "DejaVu Serif", serif' font-weight="bold" text-anchor="middle">1000</text>
<text x="1029.0" y="1218.8" font-size="28.80" font-family='"Liberation Serif", "DejaVu Serif", serif' font-weight="bold" text-anchor="end">8000</text>
<text x="1029.0" y="1094.8" font-size="28.80" font-family='"Liberation Serif", "DejaVu Serif", serif' font-weight="bold" text-anchor="end">10000</text>
<text x="1029.0" y="970.8" font-size="28.80" font-family='"Liberation Serif", "DejaVu Serif", serif' font-weight="bold" text-anchor="end">12000</text>
<text x="1029.0" y="846.8" font-size="28.80" font-family='"Liberation Serif", "DejaVu Serif", serif' font-weight="bold" text-anchor="end">14000</text>
<text x="1029.0" y="722.8" font-size="28.80" font-family='"Liberation Serif", "DejaVu Serif", serif' font-weight="bold" text-anchor="end">16000</text>
<text x="1635.3" y="1298.8" font-size="28.80" font-family='"Liberation Serif", "DejaVu Serif", serif' font-weight="bold" text-anchor="middle">365</text>
<text x="1488.4" y="1298.8" font-size="28.80" font-family='"Liberation Serif", "DejaVu Serif", serif' font-weight="bold" text-anchor="middle">370</text>
<text x="1341.4" y="1298.8" font-size="28.80" font-family='"Liberation Serif", "DejaVu Serif", serif' font-weight="bold" text-anchor="middle">375</text>
<text x="1194.5" y="1298.8" font-size="28.80" font-family='"Liberation Serif", "DejaVu Serif", serif' font-weight="bold" text-anchor="middle">380</text>
<text x="1047.5" y="1298.8" font-size="28.80" font-family='"Liberation Serif", "DejaVu Serif", serif' font-weight="bold" text-anchor="middle">385</text>
<text x="143.0" y="1914.4" font-size="28.80" font-family='"Liberation Serif", "DejaVu Serif", serif' font-weight="bold" text-anchor="end">2000</text>
<text x="143.0" y="1827.2" font-size="28.80" font-family='"Liberation Serif", "DejaVu Serif", serif' font-weight="bold" text-anchor="end">4000</text>
<text x="143.0" y="1740.0" font-size="28.80" font-family='"Liberation Serif", "DejaVu Serif", serif' font-weight="bold" text-anchor="end">6000</text>
<text x="143.0" y="1652.8" font-size="28.80" font-family='"Liberation Serif", "DejaVu Serif", serif' font-weight="bold" text-anchor="end">8000</text>
<text x="143.0" y="1565.6" font-size="28.80" font-family='"Liberation Serif", "DejaVu Serif", serif' font-weight="bold" text-anchor="end">10000</text>
<text x="143.0" y="1478.4" font-size="28.80" font-family='"Liberation Serif", "DejaVu Serif", serif' font-weight="bold" text-anchor="end">12000</text>
<text x="836.5" y="2010.8" font-size="28.80" font-family='"Liberation Serif", "DejaVu Serif", serif' font-weight="bold" text-anchor="middle">280</text>
<text x="739.9" y="2010.8" font-size="28.80" font-family='"Liberation Serif", "DejaVu Serif", serif' font-weight="bold" text-anchor="middle">282</text>
<text x="643.4" y="2010.8" font-size="28.80" font-family='"Liberation Serif", "DejaVu Serif", serif' font-weight="bold" text-anchor="middle">284</text>
<text x="546.8" y="2010.8" font-size="28.80" font-family='"Liberation Serif", "DejaVu Serif", serif' font-weight="bold" text-anchor="middle">286</text>
<text x="450.2" y="2010.8" font-size="28.80" font-family='"Liberation Serif", "DejaVu Serif", serif' font-weight="bold" text-anchor="middle">288</text>
<text x="353.6" y="2010.8" font-size="28.80" font-family='"Liberation Serif", "DejaVu Serif", serif' font-weight="bold" text-anchor="middle">290</text>
<text x="257.1" y="2010.8" font-size="28.80" font-family='"Liberation Serif", "DejaVu Serif", serif' font-weight="bold" text-anchor="middle">292</text>
<text x="160.5" y="2010.8" font-size="28.80" font-family='"Liberation Serif", "DejaVu Serif", serif' font-weight="bold" text-anchor="middle">294</text>
<text x="1034.7" y="1979.8" font-size="28.80" font-family='"Liberation Serif", "DejaVu Serif", serif' font-weight="bold" text-anchor="end">8000</text>
<text x="1034.7" y="1889.0" font-size="28.80" font-family='"Liberation Serif", "DejaVu Serif", serif' font-weight="bold" text-anchor="end">12000</text>
<text x="1034.7" y="1798.1" font-size="28.80" font-family='"Liberation Serif", "DejaVu Serif", serif' font-weight="bold" text-anchor="end">16000</text>
<text x="1034.7" y="1707.3" font-size="28.80" font-family='"Liberation Serif", "DejaVu Serif", serif' font-weight="bold" text-anchor="end">20000</text>
<text x="1034.7" y="1616.5" font-size="28.80" font-family='"Liberation Serif", "DejaVu Serif", serif' font-weight="bold" text-anchor="end">24000</text>
<text x="1034.7" y="1525.6" font-size="28.80" font-family='"Liberation Serif", "DejaVu Serif", serif' font-weight="bold" text-anchor="end">28000</text>
<text x="1034.7" y="1434.8" font-size="28.80" font-family='"Liberation Serif", "DejaVu Serif", serif' font-weight="bold" text-anchor="end">32000</text>
<text x="1694.2" y="2010.8" font-size="28.80" font-family='"Liberation Serif", "DejaVu Serif", serif' font-weight="bold" text-anchor="middle">526</text>
<text x="1576.5" y="2010.8" font-size="28.80" font-family='"Liberation Serif", "DejaVu Serif", serif' font-weight="bold" text-anchor="middle">528</text>
<text x="1458.7" y="2010.8" font-size="28.80" font-family='"Liberation Serif", "DejaVu Serif", serif' font-weight="bold" text-anchor="middle">530</text>
<text x="1340.9" y="2010.8" font-size="28.80" font-family='"Liberation Serif", "DejaVu Serif", serif' font-weight="bold" text-anchor="middle">532</text>
<text x="1223.2" y="2010.8" font-size="28.80" font-family='"Liberation Serif", "DejaVu Serif", serif' font-weight="bold" text-anchor="middle">534</text>
<text x="1105.4" y="2010.8" font-size="28.80" font-family='"Liberation Serif", "DejaVu Serif", serif' font-weight="bold" text-anchor="middle">536</text>
<text x="409.2" y="650.0" font-size="47.40" font-family='"Liberation Serif", "DejaVu Serif", serif' font-weight="bold" text-anchor="start" textLength="180.4" lengthAdjust="spacingAndGlyphs">B.E. (eV)</text>
<text x="1295.3" y="650.0" font-size="47.40" font-family='"Liberation Serif", "DejaVu Serif", serif' font-weight="bold" text-anchor="start" textLength="180.5" lengthAdjust="spacingAndGlyphs">B.E. (eV)</text>
<text x="409.2" y="1362.0" font-size="47.40" font-family='"Liberation Serif", "DejaVu Serif", serif' font-weight="bold" text-anchor="start" textLength="180.4" lengthAdjust="spacingAndGlyphs">B.E. (eV)</text>
<text x="1295.3" y="1362.0" font-size="47.40" font-family='"Liberation Serif", "DejaVu Serif", serif' font-weight="bold" text-anchor="start" textLength="180.5" lengthAdjust="spacingAndGlyphs">B.E. (eV)</text>
<text x="413.2" y="2074.0" font-size="47.40" font-family='"Liberation Serif", "DejaVu Serif", serif' font-weight="bold" text-anchor="start" textLength="169.5" lengthAdjust="spacingAndGlyphs">B.E.(eV)</text>
<text x="1299.2" y="2074.0" font-size="47.40" font-family='"Liberation Serif", "DejaVu Serif", serif' font-weight="bold" text-anchor="start" textLength="169.5" lengthAdjust="spacingAndGlyphs">B.E.(eV)</text>
<text transform="translate(35.50,405.17) rotate(-90)" x="0.00 18.20 44.23 59.14 79.81 105.87 124.03 136.24 152.56 162.28 186.26 202.29 224.90 236.77 262.04 275.38" font-size="48.60" font-family='"Liberation Sans", "DejaVu Sans", sans-serif' font-weight="normal" stroke="#000" stroke-width="1.20">Intensity (a.u.)</text>
<text transform="translate(921.1,405.4) rotate(-90)" font-size="47.60" font-family='"Liberation Serif", "DejaVu Serif", serif' font-weight="bold" textLength="290.1" lengthAdjust="spacingAndGlyphs">Intensity (a.u.)</text>
<text transform="translate(35.6,1116.6) rotate(-90)" font-size="47.60" font-family='"Liberation Serif", "DejaVu Serif", serif' font-weight="bold" textLength="289.2" lengthAdjust="spacingAndGlyphs">Intensity (a.u.)</text>
<text transform="translate(921.1,1113.6) rotate(-90)" font-size="47.60" font-family='"Liberation Serif", "DejaVu Serif", serif' font-weight="bold" textLength="286.3" lengthAdjust="spacingAndGlyphs">Intensity (a.u.)</text>
<text transform="translate(35.6,1823.1) rotate(-90)" font-size="47.60" font-family='"Liberation Serif", "DejaVu Serif", serif' font-weight="bold" textLength="278.1" lengthAdjust="spacingAndGlyphs">Intensity (a.u)</text>
<text transform="translate(926.5,1823.9) rotate(-90)" font-size="47.60" font-family='"Liberation Serif", "DejaVu Serif", serif' font-weight="bold" textLength="278.5" lengthAdjust="spacingAndGlyphs">Intensity(a.u.)</text>
<text x="190.9" y="71.6" font-size="62.30" font-family='"Liberation Serif", "DejaVu Serif", serif' font-weight="bold" text-anchor="start" textLength="76.0" lengthAdjust="spacingAndGlyphs">(a)</text>
<text x="1075.3" y="81.3" font-size="62.30" font-family='"Liberation Serif", "DejaVu Serif", serif' font-weight="bold" text-anchor="start" textLength="79.9" lengthAdjust="spacingAndGlyphs">(b)</text>
<text x="188.3" y="785.6" font-size="62.30" font-family='"Liberation Serif", "DejaVu Serif", serif' font-weight="bold" text-anchor="start" textLength="72.3" lengthAdjust="spacingAndGlyphs">(c)</text>
<text x="1075.3" y="791.2" font-size="62.30" font-family='"Liberation Serif", "DejaVu Serif", serif' font-weight="bold" text-anchor="start" textLength="79.9" lengthAdjust="spacingAndGlyphs">(d)</text>
<text x="188.3" y="1495.6" font-size="62.30" font-family='"Liberation Serif", "DejaVu Serif", serif' font-weight="bold" text-anchor="start" textLength="71.9" lengthAdjust="spacingAndGlyphs">(e)</text>
<text x="1075.2" y="1505.2" font-size="62.30" font-family='"Liberation Serif", "DejaVu Serif", serif' font-weight="bold" text-anchor="start" textLength="65.7" lengthAdjust="spacingAndGlyphs">(f)</text>
<line x1="499.4" y1="46.6" x2="563.4" y2="46.6" stroke="#ff0000" stroke-width="2.30" stroke-linecap="round"/>
<text x="570.1" y="56.4" font-size="29.80" font-family='"Liberation Serif", "DejaVu Serif", serif' font-weight="bold" text-anchor="start" textLength="238.9" lengthAdjust="spacingAndGlyphs">Ag NPs survey scan</text>
<line x1="1443.6" y1="42.0" x2="1505.9" y2="42.0" stroke="#0000ff" stroke-width="4.20" stroke-linecap="round"/>
<text x="1514.2" y="52.0" font-size="29.80" font-family='"Liberation Serif", "DejaVu Serif", serif' font-weight="bold" text-anchor="start" textLength="188.5" lengthAdjust="spacingAndGlyphs">Ag 3d (Ag NPs)</text>
<line x1="500.8" y1="747.9" x2="564.6" y2="747.9" stroke="#ff0000" stroke-width="2.30" stroke-linecap="round"/>
<text x="571.5" y="758.0" font-size="29.80" font-family='"Liberation Serif", "DejaVu Serif", serif' font-weight="bold" text-anchor="start" textLength="247.4" lengthAdjust="spacingAndGlyphs">Ag/rGO survey scan</text>
<line x1="1423.7" y1="752.5" x2="1487.0" y2="752.5" stroke="#00aa00" stroke-width="4.20" stroke-linecap="round"/>
<text x="1494.8" y="762.4" font-size="29.80" font-family='"Liberation Serif", "DejaVu Serif", serif' font-weight="bold" text-anchor="start" textLength="197.4" lengthAdjust="spacingAndGlyphs">Ag 3d (Ag/rGO)</text>
<line x1="562.5" y1="1463.4" x2="624.4" y2="1463.4" stroke="#000" stroke-width="4.20" stroke-linecap="round"/>
<text x="631.2" y="1473.5" font-size="29.80" font-family='"Liberation Serif", "DejaVu Serif", serif' font-weight="bold" text-anchor="start" textLength="180.3" lengthAdjust="spacingAndGlyphs">C 1s (Ag/rGO)</text>
<line x1="1450.7" y1="1456.6" x2="1512.9" y2="1456.6" stroke="#000" stroke-width="4.20" stroke-linecap="round"/>
<text x="1520.3" y="1466.9" font-size="29.80" font-family='"Liberation Serif", "DejaVu Serif", serif' font-weight="bold" text-anchor="start" textLength="180.7" lengthAdjust="spacingAndGlyphs">O 1s (Ag/rGO)</text>
<text x="454.2" y="305.0" font-size="31.50" font-family='"Liberation Serif", "DejaVu Serif", serif' font-weight="bold" text-anchor="start" textLength="59.5" lengthAdjust="spacingAndGlyphs">O 1s</text>
<text x="549.4" y="279.1" font-size="31.50" font-family='"Liberation Serif", "DejaVu Serif", serif' font-weight="bold" text-anchor="start" textLength="105.3" lengthAdjust="spacingAndGlyphs">Ag 3d<tspan font-size="20.16" dy="7.88">5/2</tspan></text>
<text x="620.7" y="402.5" font-size="31.50" font-family='"Liberation Serif", "DejaVu Serif", serif' font-weight="bold" text-anchor="start" textLength="57.8" lengthAdjust="spacingAndGlyphs">C 1s</text>
<text x="1429.6" y="120.3" font-size="28.70" font-family='"Liberation Serif", "DejaVu Serif", serif' font-weight="bold" text-anchor="start" textLength="226.6" lengthAdjust="spacingAndGlyphs">368.3 eV (Ag 3d<tspan font-size="18.37" dy="7.17">5/2</tspan><tspan dy="-7.17">)</tspan></text>
<text x="1234.5" y="225.6" font-size="28.70" font-family='"Liberation Serif", "DejaVu Serif", serif' font-weight="bold" text-anchor="start" textLength="227.1" lengthAdjust="spacingAndGlyphs">374.4 eV (Ag 3d<tspan font-size="18.37" dy="7.17">3/2</tspan><tspan dy="-7.17">)</tspan></text>
<text x="456.5" y="889.9" font-size="31.50" font-family='"Liberation Serif", "DejaVu Serif", serif' font-weight="bold" text-anchor="start" textLength="59.4" lengthAdjust="spacingAndGlyphs">O 1s</text>
<text x="623.0" y="1010.9" font-size="31.50" font-family='"Liberation Serif", "DejaVu Serif", serif' font-weight="bold" text-anchor="start" textLength="57.7" lengthAdjust="spacingAndGlyphs">C 1s</text>
<text x="524.8" y="1063.9" font-size="31.50" font-family='"Liberation Serif", "DejaVu Serif", serif' font-weight="bold" text-anchor="start" textLength="104.6" lengthAdjust="spacingAndGlyphs">Ag 3d<tspan font-size="20.16" dy="7.88">5/2</tspan></text>
<text x="1430.2" y="842.6" font-size="28.70" font-family='"Liberation Serif", "DejaVu Serif", serif' font-weight="bold" text-anchor="start" textLength="241.7" lengthAdjust="spacingAndGlyphs">368.23 eV (Ag 3d<tspan font-size="18.37" dy="7.17">5/2</tspan><tspan dy="-7.17">)</tspan></text>
<text x="1241.7" y="941.2" font-size="28.70" font-family='"Liberation Serif", "DejaVu Serif", serif' font-weight="bold" text-anchor="start" textLength="241.1" lengthAdjust="spacingAndGlyphs">374.34 eV (Ag 3d<tspan font-size="18.37" dy="7.17">3/2</tspan><tspan dy="-7.17">)</tspan></text>
<text x="540.2" y="1535.3" font-size="28.70" font-family='"Liberation Serif", "DejaVu Serif", serif' font-weight="bold" text-anchor="start" textLength="181.3" lengthAdjust="spacingAndGlyphs">284.5 eV (C-C)</text>
<text x="347.2" y="1724.6" font-size="28.70" font-family='"Liberation Serif", "DejaVu Serif", serif' font-weight="bold" text-anchor="start" textLength="219.7" lengthAdjust="spacingAndGlyphs">285.48 eV (C-OH)</text>
<text x="208.9" y="1844.8" font-size="28.70" font-family='"Liberation Serif", "DejaVu Serif", serif' font-weight="bold" text-anchor="start" textLength="300.1" lengthAdjust="spacingAndGlyphs">288.38 eV (C-O-C, C=O)</text>
<text x="1146.2" y="1557.0" font-size="28.70" font-family='"Liberation Serif", "DejaVu Serif", serif' font-weight="bold" text-anchor="start" textLength="203.7" lengthAdjust="spacingAndGlyphs">530.57 eV (C=O)</text>
<text x="1083.7" y="1723.6" font-size="28.70" font-family='"Liberation Serif", "DejaVu Serif", serif' font-weight="bold" text-anchor="start" textLength="219.2" lengthAdjust="spacingAndGlyphs">531.81 eV (C-OH)</text>
<line x1="518.1" y1="1740.7" x2="557.5" y2="1795.7" stroke="#000" stroke-width="1.20"/>
<polygon points="565.4,1806.7 554.2,1798.1 560.9,1793.3" fill="#000"/>
<line x1="368.7" y1="1858.2" x2="416.8" y2="1881.1" stroke="#000" stroke-width="1.20"/>
<polygon points="429.0,1886.9 415.0,1884.8 418.6,1877.4" fill="#000"/>
<line x1="1232.1" y1="1730.4" x2="1332.6" y2="1788.7" stroke="#000" stroke-width="1.20"/>
<polygon points="1344.3,1795.5 1330.6,1792.3 1334.7,1785.2" fill="#000"/>
<line x1="1309.2" y1="1573.5" x2="1399.9" y2="1623.8" stroke="#000" stroke-width="1.20"/>
<polygon points="1411.7,1630.4 1397.9,1627.4 1401.9,1620.3" fill="#000"/>
</svg>
</body></html>
